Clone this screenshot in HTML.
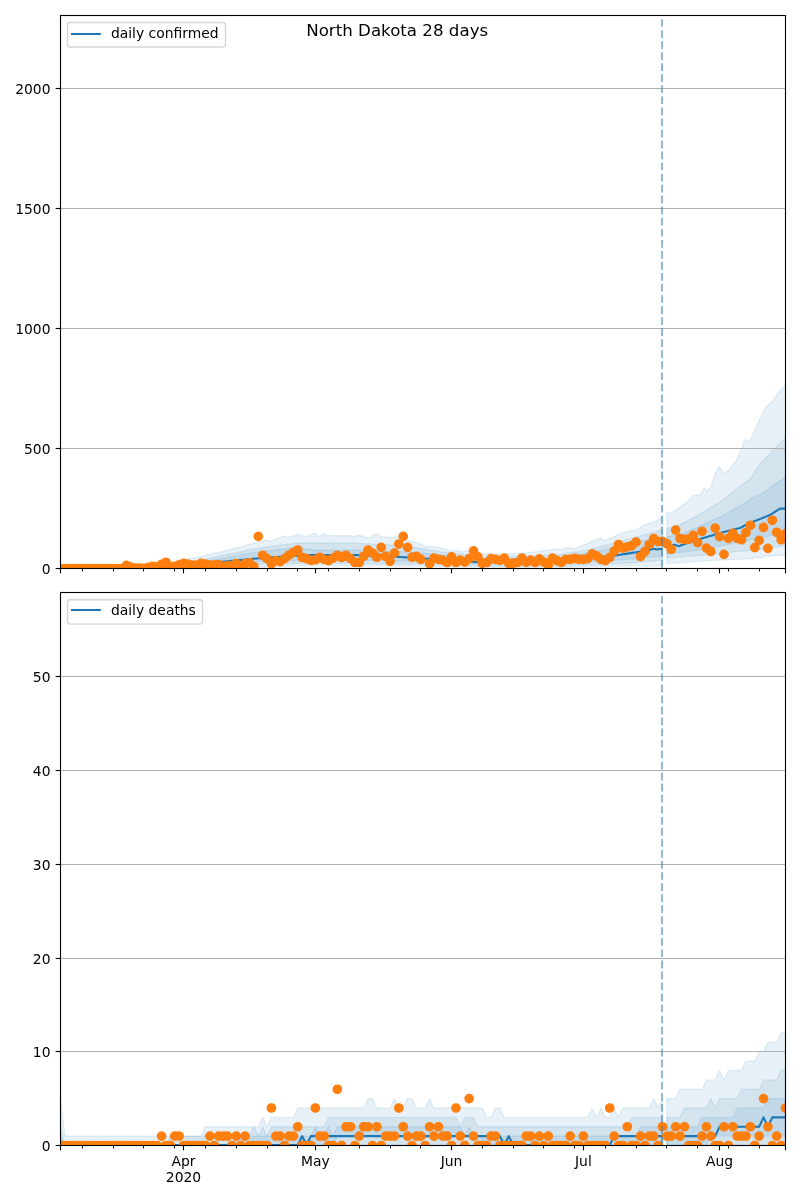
<!DOCTYPE html>
<html lang="en"><head><meta charset="utf-8"><title>North Dakota 28 days</title>
<style>html,body{margin:0;padding:0;background:#fff}svg{display:block}</style></head>
<body>
<svg width="800" height="1200" viewBox="0 0 800 1200" font-family="'DejaVu Sans', 'Liberation Sans', sans-serif">
<rect width="800" height="1200" fill="#fff"/>
<defs>
<clipPath id="c1"><rect x="60.5" y="15.5" width="725.0" height="553.0"/></clipPath>
<clipPath id="c2"><rect x="60.5" y="592.5" width="725.0" height="553.0"/></clipPath>
</defs>
<g clip-path="url(#c1)">
<polygon points="60.50,567.50 62.00,567.47 63.50,567.44 65.00,567.42 66.50,567.39 68.00,567.36 69.50,567.33 71.00,567.30 72.50,567.27 74.00,567.25 75.50,567.22 77.00,567.19 78.50,567.16 80.00,567.13 81.50,567.10 83.00,567.08 84.50,567.05 86.00,567.02 87.50,566.99 89.00,566.96 90.50,566.93 92.00,566.91 93.50,566.88 95.00,566.85 96.50,566.82 98.00,566.79 99.50,566.76 101.00,566.74 102.50,566.71 104.00,566.68 105.50,566.65 107.00,566.62 108.50,566.59 110.00,566.57 111.50,566.54 113.00,566.51 114.50,566.48 116.00,566.45 117.50,566.42 119.00,566.40 120.50,566.37 122.00,566.34 123.50,566.31 125.00,566.28 126.50,566.25 128.00,566.23 129.50,566.20 131.00,566.17 132.50,566.14 134.00,566.11 135.50,566.08 137.00,566.06 138.50,566.03 140.00,566.00 141.50,565.85 143.00,565.70 144.50,565.55 146.00,565.40 147.50,565.25 149.00,565.10 150.50,564.95 152.00,564.80 153.50,564.65 155.00,564.50 156.50,564.35 158.00,564.20 159.50,564.05 161.00,563.90 162.50,563.75 164.00,563.60 165.50,563.45 167.00,563.30 168.50,563.15 170.00,563.00 171.50,562.66 173.00,562.33 174.50,561.99 176.00,561.65 177.50,561.31 179.00,560.98 180.50,560.64 182.00,560.30 183.50,559.96 185.00,559.62 186.50,559.29 188.00,558.95 189.50,558.61 191.00,558.35 192.50,558.12 194.00,557.90 195.50,557.67 197.00,557.45 198.50,557.23 200.00,557.00 201.50,556.55 203.00,556.10 204.50,555.65 206.00,555.20 207.50,554.75 209.00,554.30 210.50,553.90 212.00,553.60 213.50,553.30 215.00,553.00 216.50,552.70 218.00,552.40 219.50,552.10 221.00,551.75 222.50,551.38 224.00,551.00 225.50,550.62 227.00,550.25 228.50,549.88 230.00,549.50 231.50,549.12 233.00,548.75 234.50,548.38 236.00,548.00 237.50,547.62 239.00,547.25 240.50,546.86 242.00,546.43 243.50,546.01 245.00,545.58 246.50,545.16 248.00,544.73 249.50,544.31 251.00,543.88 252.50,543.46 254.00,543.03 255.50,542.61 257.00,542.18 258.50,541.78 260.00,541.42 261.50,541.07 263.00,540.71 264.50,540.36 266.00,540.00 267.50,540.38 269.00,540.75 270.50,541.12 272.00,540.84 273.50,540.22 275.00,539.60 276.50,538.99 278.00,538.37 279.50,537.75 281.00,537.13 282.50,536.51 284.00,536.10 285.50,536.70 287.00,537.30 288.50,537.19 290.00,536.73 291.50,536.26 293.00,535.79 294.50,535.33 296.00,534.87 297.50,534.40 299.00,534.77 300.50,535.14 302.00,535.51 303.50,535.88 305.00,536.25 306.50,536.31 308.00,535.74 309.50,535.18 311.00,534.61 312.50,534.04 314.00,533.48 315.50,533.53 317.00,534.83 318.50,536.12 320.00,536.43 321.50,535.26 323.00,534.09 324.50,533.82 326.00,534.45 327.50,535.08 329.00,535.60 330.50,535.60 332.00,535.60 333.50,535.60 335.00,535.60 336.50,535.60 338.00,535.60 339.50,535.60 341.00,535.60 342.50,535.60 344.00,535.60 345.50,535.60 347.00,535.60 348.50,535.60 350.00,535.60 351.50,536.12 353.00,536.64 354.50,536.62 356.00,536.04 357.50,535.48 359.00,535.08 360.50,535.54 362.00,536.01 363.50,536.47 365.00,536.94 366.50,537.40 368.00,537.87 369.50,537.64 371.00,536.72 372.50,535.80 374.00,534.88 375.50,533.96 377.00,533.91 378.50,534.72 380.00,535.54 381.50,536.36 383.00,536.91 384.50,536.95 386.00,536.98 387.50,537.02 389.00,537.05 390.50,537.09 392.00,537.12 393.50,537.16 395.00,537.19 396.50,537.23 398.00,537.40 399.50,537.84 401.00,538.29 402.50,538.73 404.00,539.18 405.50,539.62 407.00,540.06 408.50,540.51 410.00,540.95 411.50,541.38 413.00,541.75 414.50,542.12 416.00,542.50 417.50,542.88 419.00,543.25 420.50,543.62 422.00,544.38 423.50,545.33 425.00,546.27 426.50,546.82 428.00,546.58 429.50,546.33 431.00,546.40 432.50,546.62 434.00,546.84 435.50,547.06 437.00,547.29 438.50,547.51 440.00,547.73 441.50,547.95 443.00,548.26 444.50,548.73 446.00,549.20 447.50,549.67 449.00,550.15 450.50,550.62 452.00,551.09 453.50,550.89 455.00,550.36 456.50,550.19 458.00,550.76 459.50,551.33 461.00,551.90 462.50,551.60 464.00,551.30 465.50,551.00 467.00,550.70 468.50,550.81 470.00,551.12 471.50,551.44 473.00,551.75 474.50,552.07 476.00,552.38 477.50,552.70 479.00,553.01 480.50,553.33 482.00,553.64 483.50,553.76 485.00,553.77 486.50,553.78 488.00,553.79 489.50,553.80 491.00,553.81 492.50,553.82 494.00,553.83 495.50,553.84 497.00,553.85 498.50,553.86 500.00,553.87 501.50,553.88 503.00,553.89 504.50,553.90 506.00,553.86 507.50,553.80 509.00,553.74 510.50,553.68 512.00,553.62 513.50,553.56 515.00,553.50 516.50,553.44 518.00,553.38 519.50,553.32 521.00,553.26 522.50,553.20 524.00,553.14 525.50,553.04 527.00,552.85 528.50,552.67 530.00,552.48 531.50,552.29 533.00,552.11 534.50,551.92 536.00,551.74 537.50,551.55 539.00,551.36 540.50,551.18 542.00,550.99 543.50,550.81 545.00,550.62 546.50,550.43 548.00,550.25 549.50,550.06 551.00,549.79 552.50,549.48 554.00,549.17 555.50,548.85 557.00,549.06 558.50,549.53 560.00,550.00 561.50,549.38 563.00,548.75 564.50,548.12 566.00,547.50 567.50,547.67 569.00,547.83 570.50,548.00 572.00,548.17 573.50,548.33 575.00,548.50 576.50,547.90 578.00,547.30 579.50,546.70 581.00,546.10 582.50,545.50 584.00,544.90 585.50,544.30 587.00,543.70 588.50,543.09 590.00,542.47 591.50,541.85 593.00,541.23 594.50,540.61 596.00,540.00 597.50,539.38 599.00,538.76 600.50,538.14 602.00,538.90 603.50,539.75 605.00,540.60 606.50,539.92 608.00,539.25 609.50,538.57 611.00,537.89 612.50,537.22 614.00,536.54 615.50,535.87 617.00,535.19 618.50,534.51 620.00,533.95 621.50,533.41 623.00,532.87 624.50,532.33 626.00,531.79 627.50,531.25 629.00,531.03 630.50,530.81 632.00,530.59 633.50,530.37 635.00,530.15 636.50,529.69 638.00,528.76 639.50,527.82 641.00,526.89 642.50,525.96 644.00,525.02 645.50,524.25 647.00,523.79 648.50,523.34 650.00,522.88 651.50,522.42 653.00,521.97 654.50,521.51 656.00,521.06 657.50,520.60 659.00,519.07 660.50,517.54 662.00,516.01 662.50,515.50 662.50,565.60 662.00,565.61 660.50,565.62 659.00,565.64 657.50,565.66 656.00,565.67 654.50,565.69 653.00,565.71 651.50,565.72 650.00,565.74 648.50,565.76 647.00,565.77 645.50,565.79 644.00,565.81 642.50,565.82 641.00,565.84 639.50,565.86 638.00,565.87 636.50,565.89 635.00,565.91 633.50,565.92 632.00,565.94 630.50,565.96 629.00,565.98 627.50,565.99 626.00,566.01 624.50,566.03 623.00,566.04 621.50,566.06 620.00,566.08 618.50,566.09 617.00,566.11 615.50,566.13 614.00,566.14 612.50,566.16 611.00,566.18 609.50,566.19 608.00,566.21 606.50,566.23 605.00,566.24 603.50,566.26 602.00,566.28 600.50,566.29 599.00,566.32 597.50,566.34 596.00,566.37 594.50,566.40 593.00,566.42 591.50,566.45 590.00,566.47 588.50,566.50 587.00,566.53 585.50,566.55 584.00,566.58 582.50,566.61 581.00,566.63 579.50,566.66 578.00,566.68 576.50,566.71 575.00,566.74 573.50,566.76 572.00,566.79 570.50,566.82 569.00,566.84 567.50,566.87 566.00,566.89 564.50,566.92 563.00,566.95 561.50,566.97 560.00,567.00 558.50,567.00 557.00,567.00 555.50,567.00 554.00,567.00 552.50,567.00 551.00,567.00 549.50,567.00 548.00,567.00 546.50,567.00 545.00,567.00 543.50,567.00 542.00,567.00 540.50,567.00 539.00,567.00 537.50,567.00 536.00,567.00 534.50,567.00 533.00,567.00 531.50,567.00 530.00,567.00 528.50,567.00 527.00,567.00 525.50,567.00 524.00,567.00 522.50,567.00 521.00,567.00 519.50,567.00 518.00,567.00 516.50,567.00 515.00,567.00 513.50,567.00 512.00,567.00 510.50,567.00 509.00,567.00 507.50,567.00 506.00,567.00 504.50,567.00 503.00,567.00 501.50,567.00 500.00,567.00 498.50,567.00 497.00,567.00 495.50,567.00 494.00,567.00 492.50,567.00 491.00,567.00 489.50,567.00 488.00,567.00 486.50,567.00 485.00,567.00 483.50,567.00 482.00,567.00 480.50,566.98 479.00,566.96 477.50,566.94 476.00,566.92 474.50,566.89 473.00,566.87 471.50,566.85 470.00,566.83 468.50,566.81 467.00,566.79 465.50,566.77 464.00,566.75 462.50,566.73 461.00,566.70 459.50,566.68 458.00,566.66 456.50,566.64 455.00,566.62 453.50,566.60 452.00,566.58 450.50,566.56 449.00,566.54 447.50,566.51 446.00,566.49 444.50,566.47 443.00,566.45 441.50,566.43 440.00,566.41 438.50,566.39 437.00,566.37 435.50,566.35 434.00,566.32 432.50,566.30 431.00,566.28 429.50,566.26 428.00,566.24 426.50,566.22 425.00,566.20 423.50,566.18 422.00,566.15 420.50,566.13 419.00,566.11 417.50,566.09 416.00,566.07 414.50,566.05 413.00,566.03 411.50,566.01 410.00,566.00 408.50,565.99 407.00,565.98 405.50,565.98 404.00,565.97 402.50,565.97 401.00,565.96 399.50,565.95 398.00,565.95 396.50,565.94 395.00,565.94 393.50,565.93 392.00,565.92 390.50,565.92 389.00,565.91 387.50,565.91 386.00,565.90 384.50,565.90 383.00,565.89 381.50,565.88 380.00,565.88 378.50,565.87 377.00,565.87 375.50,565.86 374.00,565.85 372.50,565.85 371.00,565.84 369.50,565.84 368.00,565.83 366.50,565.82 365.00,565.82 363.50,565.81 362.00,565.81 360.50,565.80 359.00,565.79 357.50,565.79 356.00,565.78 354.50,565.78 353.00,565.77 351.50,565.76 350.00,565.76 348.50,565.75 347.00,565.75 345.50,565.74 344.00,565.73 342.50,565.73 341.00,565.72 339.50,565.72 338.00,565.71 336.50,565.70 335.00,565.70 333.50,565.69 332.00,565.69 330.50,565.68 329.00,565.68 327.50,565.67 326.00,565.66 324.50,565.66 323.00,565.65 321.50,565.65 320.00,565.64 318.50,565.63 317.00,565.63 315.50,565.62 314.00,565.62 312.50,565.61 311.00,565.60 309.50,565.61 308.00,565.65 306.50,565.69 305.00,565.73 303.50,565.76 302.00,565.80 300.50,565.84 299.00,565.88 297.50,565.91 296.00,565.95 294.50,565.99 293.00,566.02 291.50,566.06 290.00,566.10 288.50,566.14 287.00,566.17 285.50,566.21 284.00,566.25 282.50,566.29 281.00,566.33 279.50,566.36 278.00,566.40 276.50,566.44 275.00,566.48 273.50,566.51 272.00,566.55 270.50,566.59 269.00,566.62 267.50,566.66 266.00,566.70 264.50,566.74 263.00,566.77 261.50,566.81 260.00,566.85 258.50,566.89 257.00,566.91 255.50,566.93 254.00,566.96 252.50,566.98 251.00,567.00 249.50,567.02 248.00,567.04 246.50,567.06 245.00,567.08 243.50,567.10 242.00,567.12 240.50,567.14 239.00,567.17 237.50,567.19 236.00,567.21 234.50,567.23 233.00,567.25 231.50,567.27 230.00,567.29 228.50,567.31 227.00,567.33 225.50,567.35 224.00,567.37 222.50,567.40 221.00,567.42 219.50,567.44 218.00,567.46 216.50,567.48 215.00,567.50 213.50,567.51 212.00,567.52 210.50,567.53 209.00,567.54 207.50,567.55 206.00,567.56 204.50,567.57 203.00,567.58 201.50,567.59 200.00,567.60 198.50,567.61 197.00,567.62 195.50,567.63 194.00,567.64 192.50,567.65 191.00,567.66 189.50,567.67 188.00,567.67 186.50,567.68 185.00,567.69 183.50,567.70 182.00,567.71 180.50,567.72 179.00,567.73 177.50,567.74 176.00,567.75 174.50,567.76 173.00,567.77 171.50,567.78 170.00,567.79 168.50,567.80 167.00,567.81 165.50,567.82 164.00,567.83 162.50,567.84 161.00,567.85 159.50,567.86 158.00,567.87 156.50,567.88 155.00,567.89 153.50,567.90 152.00,567.91 150.50,567.92 149.00,567.93 147.50,567.94 146.00,567.95 144.50,567.96 143.00,567.97 141.50,567.98 140.00,567.99 138.50,568.00 137.00,568.00 135.50,568.01 134.00,568.02 132.50,568.03 131.00,568.04 129.50,568.05 128.00,568.06 126.50,568.07 125.00,568.08 123.50,568.09 122.00,568.10 120.50,568.11 119.00,568.12 117.50,568.13 116.00,568.14 114.50,568.15 113.00,568.16 111.50,568.17 110.00,568.18 108.50,568.19 107.00,568.20 105.50,568.21 104.00,568.22 102.50,568.23 101.00,568.24 99.50,568.25 98.00,568.26 96.50,568.27 95.00,568.28 93.50,568.29 92.00,568.30 90.50,568.31 89.00,568.32 87.50,568.33 86.00,568.33 84.50,568.34 83.00,568.35 81.50,568.36 80.00,568.37 78.50,568.38 77.00,568.39 75.50,568.40 74.00,568.41 72.50,568.42 71.00,568.43 69.50,568.44 68.00,568.45 66.50,568.46 65.00,568.47 63.50,568.48 62.00,568.49 60.50,568.50" fill="#1f77b4" fill-opacity="0.1" stroke="#1f77b4" stroke-opacity="0.1" stroke-width="1.39" stroke-linejoin="round"/>
<polygon points="60.50,567.80 62.00,567.78 63.50,567.77 65.00,567.75 66.50,567.74 68.00,567.72 69.50,567.71 71.00,567.69 72.50,567.68 74.00,567.66 75.50,567.65 77.00,567.63 78.50,567.62 80.00,567.60 81.50,567.59 83.00,567.57 84.50,567.56 86.00,567.54 87.50,567.53 89.00,567.51 90.50,567.50 92.00,567.48 93.50,567.47 95.00,567.45 96.50,567.44 98.00,567.42 99.50,567.41 101.00,567.39 102.50,567.38 104.00,567.36 105.50,567.35 107.00,567.33 108.50,567.32 110.00,567.30 111.50,567.29 113.00,567.27 114.50,567.26 116.00,567.24 117.50,567.23 119.00,567.21 120.50,567.20 122.00,567.18 123.50,567.17 125.00,567.15 126.50,567.14 128.00,567.12 129.50,567.11 131.00,567.09 132.50,567.08 134.00,567.06 135.50,567.05 137.00,567.03 138.50,567.02 140.00,567.00 141.50,566.90 143.00,566.80 144.50,566.70 146.00,566.60 147.50,566.50 149.00,566.40 150.50,566.30 152.00,566.20 153.50,566.10 155.00,566.00 156.50,565.90 158.00,565.80 159.50,565.70 161.00,565.60 162.50,565.50 164.00,565.40 165.50,565.30 167.00,565.20 168.50,565.10 170.00,565.00 171.50,564.77 173.00,564.55 174.50,564.33 176.00,564.10 177.50,563.88 179.00,563.65 180.50,563.42 182.00,563.20 183.50,562.98 185.00,562.75 186.50,562.52 188.00,562.30 189.50,562.08 191.00,561.85 192.50,561.62 194.00,561.40 195.50,561.17 197.00,560.95 198.50,560.73 200.00,560.50 201.50,560.15 203.00,559.80 204.50,559.45 206.00,559.10 207.50,558.75 209.00,558.40 210.50,558.05 212.00,557.70 213.50,557.35 215.00,557.00 216.50,556.69 218.00,556.38 219.50,556.07 221.00,555.76 222.50,555.45 224.00,555.14 225.50,554.83 227.00,554.52 228.50,554.21 230.00,553.90 231.50,553.58 233.00,553.27 234.50,552.96 236.00,552.65 237.50,552.34 239.00,552.03 240.50,551.72 242.00,551.41 243.50,551.10 245.00,550.79 246.50,550.48 248.00,550.17 249.50,549.86 251.00,549.55 252.50,549.24 254.00,548.93 255.50,548.62 257.00,548.31 258.50,548.03 260.00,547.84 261.50,547.64 263.00,547.44 264.50,547.24 266.00,547.05 267.50,546.85 269.00,546.65 270.50,546.46 272.00,546.26 273.50,546.06 275.00,545.86 276.50,545.67 278.00,545.47 279.50,545.27 281.00,545.07 282.50,544.88 284.00,544.68 285.50,544.48 287.00,544.28 288.50,544.09 290.00,543.89 291.50,543.69 293.00,543.49 294.50,543.30 296.00,543.10 297.50,543.10 299.00,543.10 300.50,543.10 302.00,543.10 303.50,543.10 305.00,543.10 306.50,543.10 308.00,543.10 309.50,543.10 311.00,543.10 312.50,543.10 314.00,543.10 315.50,543.10 317.00,543.10 318.50,543.10 320.00,543.10 321.50,543.10 323.00,543.10 324.50,543.10 326.00,543.10 327.50,543.10 329.00,543.10 330.50,543.10 332.00,543.10 333.50,543.10 335.00,543.10 336.50,543.10 338.00,543.10 339.50,543.10 341.00,543.10 342.50,543.10 344.00,543.10 345.50,543.10 347.00,543.10 348.50,543.10 350.00,543.10 351.50,543.16 353.00,543.21 354.50,543.27 356.00,543.32 357.50,543.38 359.00,543.43 360.50,543.49 362.00,543.55 363.50,543.60 365.00,543.66 366.50,543.71 368.00,543.77 369.50,543.82 371.00,543.88 372.50,543.94 374.00,543.99 375.50,544.05 377.00,544.10 378.50,544.16 380.00,544.21 381.50,544.27 383.00,544.33 384.50,544.38 386.00,544.50 387.50,544.65 389.00,544.80 390.50,544.95 392.00,545.10 393.50,545.25 395.00,545.40 396.50,545.55 398.00,545.70 399.50,545.85 401.00,546.00 402.50,546.15 404.00,546.30 405.50,546.45 407.00,546.60 408.50,546.75 410.00,546.90 411.50,547.08 413.00,547.32 414.50,547.56 416.00,547.81 417.50,548.05 419.00,548.29 420.50,548.53 422.00,548.77 423.50,549.02 425.00,549.26 426.50,549.50 428.00,549.74 429.50,549.98 431.00,550.23 432.50,550.47 434.00,550.71 435.50,550.95 437.00,551.19 438.50,551.44 440.00,551.68 441.50,551.92 443.00,552.11 444.50,552.28 446.00,552.45 447.50,552.62 449.00,552.79 450.50,552.96 452.00,553.12 453.50,553.29 455.00,553.46 456.50,553.63 458.00,553.80 459.50,553.97 461.00,554.14 462.50,554.31 464.00,554.48 465.50,554.64 467.00,554.81 468.50,554.98 470.00,555.15 471.50,555.32 473.00,555.49 474.50,555.66 476.00,555.83 477.50,555.99 479.00,556.16 480.50,556.33 482.00,556.50 483.50,556.50 485.00,556.50 486.50,556.50 488.00,556.50 489.50,556.50 491.00,556.50 492.50,556.50 494.00,556.50 495.50,556.50 497.00,556.50 498.50,556.50 500.00,556.50 501.50,556.50 503.00,556.50 504.50,556.50 506.00,556.50 507.50,556.50 509.00,556.50 510.50,556.50 512.00,556.50 513.50,556.50 515.00,556.50 516.50,556.50 518.00,556.50 519.50,556.50 521.00,556.50 522.50,556.50 524.00,556.50 525.50,556.47 527.00,556.39 528.50,556.30 530.00,556.21 531.50,556.13 533.00,556.04 534.50,555.96 536.00,555.87 537.50,555.79 539.00,555.70 540.50,555.61 542.00,555.53 543.50,555.44 545.00,555.36 546.50,555.27 548.00,555.19 549.50,555.10 551.00,555.01 552.50,554.93 554.00,554.84 555.50,554.76 557.00,554.67 558.50,554.59 560.00,554.50 561.50,554.25 563.00,553.99 564.50,553.74 566.00,553.48 567.50,553.23 569.00,552.97 570.50,552.72 572.00,552.46 573.50,552.21 575.00,551.95 576.50,551.69 578.00,551.44 579.50,551.18 581.00,550.93 582.50,550.67 584.00,550.42 585.50,550.16 587.00,549.91 588.50,549.65 590.00,549.40 591.50,549.01 593.00,548.62 594.50,548.23 596.00,547.83 597.50,547.44 599.00,547.05 600.50,546.66 602.00,546.27 603.50,545.88 605.00,545.49 606.50,545.10 608.00,544.70 609.50,544.31 611.00,543.92 612.50,543.53 614.00,543.14 615.50,542.75 617.00,542.36 618.50,541.97 620.00,541.56 621.50,541.14 623.00,540.73 624.50,540.32 626.00,539.91 627.50,539.50 629.00,539.08 630.50,538.67 632.00,538.26 633.50,537.85 635.00,537.43 636.50,537.02 638.00,536.61 639.50,536.20 641.00,535.78 642.50,535.37 644.00,534.96 645.50,534.55 647.00,534.14 648.50,533.72 650.00,533.31 651.50,532.90 653.00,532.49 654.50,532.07 656.00,531.66 657.50,531.25 659.00,530.88 660.50,530.50 662.00,530.12 662.50,530.00 662.50,560.00 662.00,560.05 660.50,560.19 659.00,560.33 657.50,560.47 656.00,560.61 654.50,560.75 653.00,560.90 651.50,561.04 650.00,561.18 648.50,561.32 647.00,561.46 645.50,561.60 644.00,561.75 642.50,561.89 641.00,562.03 639.50,562.17 638.00,562.31 636.50,562.45 635.00,562.56 633.50,562.64 632.00,562.72 630.50,562.81 629.00,562.89 627.50,562.97 626.00,563.06 624.50,563.14 623.00,563.22 621.50,563.31 620.00,563.39 618.50,563.47 617.00,563.56 615.50,563.64 614.00,563.72 612.50,563.81 611.00,563.89 609.50,563.97 608.00,564.06 606.50,564.14 605.00,564.22 603.50,564.31 602.00,564.39 600.50,564.47 599.00,564.52 597.50,564.56 596.00,564.60 594.50,564.64 593.00,564.67 591.50,564.71 590.00,564.75 588.50,564.79 587.00,564.83 585.50,564.86 584.00,564.90 582.50,564.94 581.00,564.98 579.50,565.01 578.00,565.05 576.50,565.09 575.00,565.12 573.50,565.16 572.00,565.20 570.50,565.24 569.00,565.27 567.50,565.31 566.00,565.35 564.50,565.39 563.00,565.42 561.50,565.46 560.00,565.50 558.50,565.50 557.00,565.50 555.50,565.50 554.00,565.50 552.50,565.50 551.00,565.50 549.50,565.50 548.00,565.50 546.50,565.50 545.00,565.50 543.50,565.50 542.00,565.50 540.50,565.50 539.00,565.50 537.50,565.50 536.00,565.50 534.50,565.50 533.00,565.50 531.50,565.50 530.00,565.50 528.50,565.50 527.00,565.50 525.50,565.50 524.00,565.50 522.50,565.50 521.00,565.50 519.50,565.50 518.00,565.50 516.50,565.50 515.00,565.50 513.50,565.50 512.00,565.50 510.50,565.50 509.00,565.50 507.50,565.50 506.00,565.50 504.50,565.50 503.00,565.50 501.50,565.50 500.00,565.50 498.50,565.50 497.00,565.50 495.50,565.50 494.00,565.50 492.50,565.50 491.00,565.50 489.50,565.50 488.00,565.50 486.50,565.50 485.00,565.50 483.50,565.50 482.00,565.50 480.50,565.47 479.00,565.44 477.50,565.40 476.00,565.37 474.50,565.34 473.00,565.31 471.50,565.28 470.00,565.25 468.50,565.21 467.00,565.18 465.50,565.15 464.00,565.12 462.50,565.09 461.00,565.06 459.50,565.02 458.00,564.99 456.50,564.96 455.00,564.93 453.50,564.90 452.00,564.87 450.50,564.83 449.00,564.80 447.50,564.77 446.00,564.74 444.50,564.71 443.00,564.68 441.50,564.64 440.00,564.61 438.50,564.58 437.00,564.55 435.50,564.52 434.00,564.49 432.50,564.45 431.00,564.42 429.50,564.39 428.00,564.36 426.50,564.33 425.00,564.30 423.50,564.26 422.00,564.23 420.50,564.20 419.00,564.17 417.50,564.14 416.00,564.11 414.50,564.07 413.00,564.04 411.50,564.01 410.00,563.99 408.50,563.98 407.00,563.96 405.50,563.95 404.00,563.94 402.50,563.92 401.00,563.91 399.50,563.90 398.00,563.88 396.50,563.87 395.00,563.86 393.50,563.84 392.00,563.83 390.50,563.82 389.00,563.80 387.50,563.79 386.00,563.78 384.50,563.76 383.00,563.75 381.50,563.74 380.00,563.72 378.50,563.71 377.00,563.70 375.50,563.68 374.00,563.67 372.50,563.66 371.00,563.64 369.50,563.63 368.00,563.62 366.50,563.60 365.00,563.59 363.50,563.58 362.00,563.56 360.50,563.55 359.00,563.54 357.50,563.52 356.00,563.51 354.50,563.50 353.00,563.48 351.50,563.47 350.00,563.46 348.50,563.44 347.00,563.43 345.50,563.42 344.00,563.40 342.50,563.39 341.00,563.38 339.50,563.36 338.00,563.35 336.50,563.34 335.00,563.32 333.50,563.31 332.00,563.30 330.50,563.28 329.00,563.27 327.50,563.26 326.00,563.24 324.50,563.23 323.00,563.22 321.50,563.20 320.00,563.19 318.50,563.18 317.00,563.16 315.50,563.15 314.00,563.14 312.50,563.12 311.00,563.11 309.50,563.11 308.00,563.15 306.50,563.19 305.00,563.23 303.50,563.26 302.00,563.30 300.50,563.34 299.00,563.38 297.50,563.41 296.00,563.45 294.50,563.49 293.00,563.52 291.50,563.56 290.00,563.60 288.50,563.64 287.00,563.67 285.50,563.71 284.00,563.75 282.50,563.79 281.00,563.83 279.50,563.86 278.00,563.90 276.50,563.94 275.00,563.98 273.50,564.01 272.00,564.05 270.50,564.09 269.00,564.12 267.50,564.16 266.00,564.20 264.50,564.24 263.00,564.27 261.50,564.31 260.00,564.35 258.50,564.39 257.00,564.44 255.50,564.49 254.00,564.55 252.50,564.60 251.00,564.66 249.50,564.72 248.00,564.77 246.50,564.83 245.00,564.88 243.50,564.94 242.00,565.00 240.50,565.05 239.00,565.11 237.50,565.16 236.00,565.22 234.50,565.27 233.00,565.33 231.50,565.39 230.00,565.44 228.50,565.50 227.00,565.55 225.50,565.61 224.00,565.67 222.50,565.72 221.00,565.78 219.50,565.83 218.00,565.89 216.50,565.94 215.00,566.00 213.50,566.07 212.00,566.13 210.50,566.20 209.00,566.27 207.50,566.33 206.00,566.40 204.50,566.47 203.00,566.53 201.50,566.60 200.00,566.67 198.50,566.73 197.00,566.80 195.50,566.87 194.00,566.93 192.50,567.00 191.00,567.07 189.50,567.13 188.00,567.20 186.50,567.27 185.00,567.33 183.50,567.40 182.00,567.47 180.50,567.53 179.00,567.60 177.50,567.67 176.00,567.73 174.50,567.80 173.00,567.87 171.50,567.93 170.00,568.00 168.50,568.01 167.00,568.01 165.50,568.02 164.00,568.03 162.50,568.03 161.00,568.04 159.50,568.05 158.00,568.05 156.50,568.06 155.00,568.07 153.50,568.08 152.00,568.08 150.50,568.09 149.00,568.10 147.50,568.10 146.00,568.11 144.50,568.12 143.00,568.12 141.50,568.13 140.00,568.14 138.50,568.14 137.00,568.15 135.50,568.16 134.00,568.16 132.50,568.17 131.00,568.18 129.50,568.18 128.00,568.19 126.50,568.20 125.00,568.21 123.50,568.21 122.00,568.22 120.50,568.23 119.00,568.23 117.50,568.24 116.00,568.25 114.50,568.25 113.00,568.26 111.50,568.27 110.00,568.27 108.50,568.28 107.00,568.29 105.50,568.29 104.00,568.30 102.50,568.31 101.00,568.32 99.50,568.32 98.00,568.33 96.50,568.34 95.00,568.34 93.50,568.35 92.00,568.36 90.50,568.36 89.00,568.37 87.50,568.38 86.00,568.38 84.50,568.39 83.00,568.40 81.50,568.40 80.00,568.41 78.50,568.42 77.00,568.42 75.50,568.43 74.00,568.44 72.50,568.45 71.00,568.45 69.50,568.46 68.00,568.47 66.50,568.47 65.00,568.48 63.50,568.49 62.00,568.49 60.50,568.50" fill="#1f77b4" fill-opacity="0.1" stroke="#1f77b4" stroke-opacity="0.1" stroke-width="1.39" stroke-linejoin="round"/>
<polygon points="60.50,568.00 62.00,567.99 63.50,567.98 65.00,567.97 66.50,567.96 68.00,567.95 69.50,567.94 71.00,567.93 72.50,567.92 74.00,567.92 75.50,567.91 77.00,567.90 78.50,567.89 80.00,567.88 81.50,567.87 83.00,567.86 84.50,567.85 86.00,567.84 87.50,567.83 89.00,567.82 90.50,567.81 92.00,567.80 93.50,567.79 95.00,567.78 96.50,567.77 98.00,567.76 99.50,567.75 101.00,567.75 102.50,567.74 104.00,567.73 105.50,567.72 107.00,567.71 108.50,567.70 110.00,567.69 111.50,567.68 113.00,567.67 114.50,567.66 116.00,567.65 117.50,567.64 119.00,567.63 120.50,567.62 122.00,567.61 123.50,567.60 125.00,567.59 126.50,567.58 128.00,567.58 129.50,567.57 131.00,567.56 132.50,567.55 134.00,567.54 135.50,567.53 137.00,567.52 138.50,567.51 140.00,567.50 141.50,567.42 143.00,567.35 144.50,567.27 146.00,567.20 147.50,567.12 149.00,567.05 150.50,566.98 152.00,566.90 153.50,566.83 155.00,566.75 156.50,566.67 158.00,566.60 159.50,566.52 161.00,566.45 162.50,566.38 164.00,566.30 165.50,566.23 167.00,566.15 168.50,566.08 170.00,566.00 171.50,565.83 173.00,565.65 174.50,565.48 176.00,565.30 177.50,565.12 179.00,564.95 180.50,564.77 182.00,564.60 183.50,564.42 185.00,564.25 186.50,564.08 188.00,563.90 189.50,563.73 191.00,563.55 192.50,563.38 194.00,563.20 195.50,563.02 197.00,562.85 198.50,562.67 200.00,562.50 201.50,562.20 203.00,561.90 204.50,561.60 206.00,561.30 207.50,561.00 209.00,560.70 210.50,560.40 212.00,560.10 213.50,559.80 215.00,559.50 216.50,559.23 218.00,558.97 219.50,558.70 221.00,558.44 222.50,558.17 224.00,557.91 225.50,557.64 227.00,557.38 228.50,557.11 230.00,556.85 231.50,556.58 233.00,556.32 234.50,556.05 236.00,555.79 237.50,555.52 239.00,555.26 240.50,554.99 242.00,554.73 243.50,554.46 245.00,554.20 246.50,553.93 248.00,553.67 249.50,553.40 251.00,553.14 252.50,552.87 254.00,552.61 255.50,552.34 257.00,552.08 258.50,551.84 260.00,551.67 261.50,551.49 263.00,551.32 264.50,551.15 266.00,550.97 267.50,550.80 269.00,550.63 270.50,550.45 272.00,550.28 273.50,550.11 275.00,549.93 276.50,549.76 278.00,549.58 279.50,549.41 281.00,549.24 282.50,549.06 284.00,548.89 285.50,548.72 287.00,548.54 288.50,548.37 290.00,548.19 291.50,548.02 293.00,547.85 294.50,547.67 296.00,547.50 297.50,547.70 299.00,547.89 300.50,548.09 302.00,548.29 303.50,548.49 305.00,548.68 306.50,548.88 308.00,549.08 309.50,549.28 311.00,549.47 312.50,549.67 314.00,549.87 315.50,550.00 317.00,550.00 318.50,550.00 320.00,550.00 321.50,550.00 323.00,550.00 324.50,550.00 326.00,550.00 327.50,550.00 329.00,550.00 330.50,550.00 332.00,550.00 333.50,550.00 335.00,550.00 336.50,550.00 338.00,550.00 339.50,550.00 341.00,550.00 342.50,550.00 344.00,550.00 345.50,550.00 347.00,550.00 348.50,550.00 350.00,550.00 351.50,550.05 353.00,550.11 354.50,550.16 356.00,550.21 357.50,550.27 359.00,550.32 360.50,550.38 362.00,550.43 363.50,550.48 365.00,550.54 366.50,550.59 368.00,550.64 369.50,550.70 371.00,550.75 372.50,550.80 374.00,550.86 375.50,550.91 377.00,550.96 378.50,551.02 380.00,551.07 381.50,551.12 383.00,551.18 384.50,551.23 386.00,551.28 387.50,551.32 389.00,551.37 390.50,551.41 392.00,551.45 393.50,551.50 395.00,551.54 396.50,551.58 398.00,551.62 399.50,551.67 401.00,551.71 402.50,551.75 404.00,551.80 405.50,551.84 407.00,551.88 408.50,551.93 410.00,551.97 411.50,552.05 413.00,552.19 414.50,552.34 416.00,552.48 417.50,552.63 419.00,552.77 420.50,552.92 422.00,553.06 423.50,553.21 425.00,553.35 426.50,553.50 428.00,553.65 429.50,553.79 431.00,553.94 432.50,554.08 434.00,554.23 435.50,554.37 437.00,554.52 438.50,554.66 440.00,554.81 441.50,554.95 443.00,555.10 444.50,555.25 446.00,555.40 447.50,555.55 449.00,555.70 450.50,555.85 452.00,556.00 453.50,556.15 455.00,556.30 456.50,556.45 458.00,556.60 459.50,556.75 461.00,556.90 462.50,557.05 464.00,557.20 465.50,557.35 467.00,557.50 468.50,557.65 470.00,557.80 471.50,557.95 473.00,558.10 474.50,558.25 476.00,558.40 477.50,558.55 479.00,558.70 480.50,558.85 482.00,559.00 483.50,559.02 485.00,559.03 486.50,559.05 488.00,559.07 489.50,559.09 491.00,559.10 492.50,559.12 494.00,559.14 495.50,559.16 497.00,559.17 498.50,559.19 500.00,559.21 501.50,559.23 503.00,559.24 504.50,559.26 506.00,559.28 507.50,559.30 509.00,559.31 510.50,559.33 512.00,559.35 513.50,559.37 515.00,559.38 516.50,559.40 518.00,559.42 519.50,559.44 521.00,559.45 522.50,559.47 524.00,559.49 525.50,559.48 527.00,559.41 528.50,559.35 530.00,559.29 531.50,559.22 533.00,559.16 534.50,559.09 536.00,559.03 537.50,558.96 539.00,558.90 540.50,558.84 542.00,558.77 543.50,558.71 545.00,558.64 546.50,558.58 548.00,558.51 549.50,558.45 551.00,558.39 552.50,558.32 554.00,558.26 555.50,558.19 557.00,558.13 558.50,558.06 560.00,558.00 561.50,557.73 563.00,557.45 564.50,557.17 566.00,556.90 567.50,556.62 569.00,556.35 570.50,556.08 572.00,555.80 573.50,555.52 575.00,555.25 576.50,554.98 578.00,554.70 579.50,554.42 581.00,554.15 582.50,553.88 584.00,553.60 585.50,553.33 587.00,553.05 588.50,552.77 590.00,552.50 591.50,552.21 593.00,551.93 594.50,551.64 596.00,551.35 597.50,551.07 599.00,550.78 600.50,550.49 602.00,550.20 603.50,549.92 605.00,549.63 606.50,549.34 608.00,549.06 609.50,548.77 611.00,548.48 612.50,548.20 614.00,547.91 615.50,547.62 617.00,547.33 618.50,547.05 620.00,546.69 621.50,546.33 623.00,545.96 624.50,545.59 626.00,545.22 627.50,544.85 629.00,544.49 630.50,544.12 632.00,543.75 633.50,543.38 635.00,543.02 636.50,542.65 638.00,542.28 639.50,541.91 641.00,541.55 642.50,541.18 644.00,540.81 645.50,540.44 647.00,540.07 648.50,539.71 650.00,539.34 651.50,538.97 653.00,538.60 654.50,538.24 656.00,537.87 657.50,537.50 659.00,537.32 660.50,537.14 662.00,536.96 662.50,536.90 662.50,556.00 662.00,556.05 660.50,556.19 659.00,556.33 657.50,556.47 656.00,556.61 654.50,556.75 653.00,556.90 651.50,557.04 650.00,557.18 648.50,557.32 647.00,557.46 645.50,557.60 644.00,557.75 642.50,557.89 641.00,558.03 639.50,558.17 638.00,558.31 636.50,558.45 635.00,558.58 633.50,558.71 632.00,558.83 630.50,558.96 629.00,559.08 627.50,559.21 626.00,559.33 624.50,559.46 623.00,559.58 621.50,559.71 620.00,559.83 618.50,559.96 617.00,560.08 615.50,560.21 614.00,560.33 612.50,560.46 611.00,560.58 609.50,560.71 608.00,560.83 606.50,560.96 605.00,561.08 603.50,561.21 602.00,561.33 600.50,561.46 599.00,561.55 597.50,561.62 596.00,561.70 594.50,561.77 593.00,561.85 591.50,561.92 590.00,562.00 588.50,562.08 587.00,562.15 585.50,562.23 584.00,562.30 582.50,562.38 581.00,562.45 579.50,562.52 578.00,562.60 576.50,562.67 575.00,562.75 573.50,562.83 572.00,562.90 570.50,562.98 569.00,563.05 567.50,563.12 566.00,563.20 564.50,563.27 563.00,563.35 561.50,563.42 560.00,563.50 558.50,563.51 557.00,563.52 555.50,563.53 554.00,563.54 552.50,563.55 551.00,563.56 549.50,563.57 548.00,563.58 546.50,563.59 545.00,563.60 543.50,563.61 542.00,563.62 540.50,563.62 539.00,563.63 537.50,563.64 536.00,563.65 534.50,563.66 533.00,563.67 531.50,563.68 530.00,563.69 528.50,563.70 527.00,563.71 525.50,563.72 524.00,563.73 522.50,563.74 521.00,563.75 519.50,563.76 518.00,563.77 516.50,563.78 515.00,563.79 513.50,563.80 512.00,563.81 510.50,563.82 509.00,563.83 507.50,563.84 506.00,563.85 504.50,563.86 503.00,563.87 501.50,563.88 500.00,563.88 498.50,563.89 497.00,563.90 495.50,563.91 494.00,563.92 492.50,563.93 491.00,563.94 489.50,563.95 488.00,563.96 486.50,563.97 485.00,563.98 483.50,563.99 482.00,564.00 480.50,563.94 479.00,563.87 477.50,563.81 476.00,563.75 474.50,563.68 473.00,563.62 471.50,563.56 470.00,563.49 468.50,563.43 467.00,563.37 465.50,563.30 464.00,563.24 462.50,563.18 461.00,563.11 459.50,563.05 458.00,562.99 456.50,562.92 455.00,562.86 453.50,562.80 452.00,562.73 450.50,562.67 449.00,562.61 447.50,562.54 446.00,562.48 444.50,562.42 443.00,562.35 441.50,562.29 440.00,562.23 438.50,562.16 437.00,562.10 435.50,562.04 434.00,561.97 432.50,561.91 431.00,561.85 429.50,561.78 428.00,561.72 426.50,561.65 425.00,561.59 423.50,561.53 422.00,561.46 420.50,561.40 419.00,561.34 417.50,561.27 416.00,561.21 414.50,561.15 413.00,561.08 411.50,561.02 410.00,560.98 408.50,560.95 407.00,560.92 405.50,560.89 404.00,560.87 402.50,560.84 401.00,560.81 399.50,560.78 398.00,560.75 396.50,560.72 395.00,560.69 393.50,560.66 392.00,560.63 390.50,560.61 389.00,560.58 387.50,560.55 386.00,560.52 384.50,560.50 383.00,560.49 381.50,560.48 380.00,560.47 378.50,560.46 377.00,560.45 375.50,560.44 374.00,560.43 372.50,560.42 371.00,560.41 369.50,560.40 368.00,560.39 366.50,560.38 365.00,560.37 363.50,560.36 362.00,560.35 360.50,560.34 359.00,560.33 357.50,560.32 356.00,560.31 354.50,560.30 353.00,560.29 351.50,560.28 350.00,560.27 348.50,560.26 347.00,560.25 345.50,560.24 344.00,560.23 342.50,560.22 341.00,560.21 339.50,560.20 338.00,560.19 336.50,560.18 335.00,560.17 333.50,560.16 332.00,560.15 330.50,560.14 329.00,560.13 327.50,560.12 326.00,560.11 324.50,560.10 323.00,560.09 321.50,560.08 320.00,560.07 318.50,560.06 317.00,560.05 315.50,560.04 314.00,560.03 312.50,560.02 311.00,560.01 309.50,560.02 308.00,560.08 306.50,560.13 305.00,560.19 303.50,560.25 302.00,560.31 300.50,560.37 299.00,560.42 297.50,560.48 296.00,560.54 294.50,560.60 293.00,560.65 291.50,560.71 290.00,560.77 288.50,560.83 287.00,560.88 285.50,560.94 284.00,561.00 282.50,561.06 281.00,561.12 279.50,561.17 278.00,561.23 276.50,561.29 275.00,561.35 273.50,561.40 272.00,561.46 270.50,561.52 269.00,561.58 267.50,561.63 266.00,561.69 264.50,561.75 263.00,561.81 261.50,561.87 260.00,561.92 258.50,561.98 257.00,562.06 255.50,562.15 254.00,562.23 252.50,562.32 251.00,562.41 249.50,562.49 248.00,562.58 246.50,562.67 245.00,562.76 243.50,562.84 242.00,562.93 240.50,563.02 239.00,563.10 237.50,563.19 236.00,563.28 234.50,563.37 233.00,563.45 231.50,563.54 230.00,563.63 228.50,563.72 227.00,563.80 225.50,563.89 224.00,563.98 222.50,564.06 221.00,564.15 219.50,564.24 218.00,564.33 216.50,564.41 215.00,564.50 213.50,564.60 212.00,564.70 210.50,564.80 209.00,564.90 207.50,565.00 206.00,565.10 204.50,565.20 203.00,565.30 201.50,565.40 200.00,565.50 198.50,565.60 197.00,565.70 195.50,565.80 194.00,565.90 192.50,566.00 191.00,566.10 189.50,566.20 188.00,566.30 186.50,566.40 185.00,566.50 183.50,566.60 182.00,566.70 180.50,566.80 179.00,566.90 177.50,567.00 176.00,567.10 174.50,567.20 173.00,567.30 171.50,567.40 170.00,567.50 168.50,567.51 167.00,567.52 165.50,567.54 164.00,567.55 162.50,567.56 161.00,567.57 159.50,567.59 158.00,567.60 156.50,567.61 155.00,567.62 153.50,567.64 152.00,567.65 150.50,567.66 149.00,567.67 147.50,567.68 146.00,567.70 144.50,567.71 143.00,567.72 141.50,567.73 140.00,567.75 138.50,567.76 137.00,567.77 135.50,567.78 134.00,567.80 132.50,567.81 131.00,567.82 129.50,567.83 128.00,567.85 126.50,567.86 125.00,567.87 123.50,567.88 122.00,567.89 120.50,567.91 119.00,567.92 117.50,567.93 116.00,567.94 114.50,567.96 113.00,567.97 111.50,567.98 110.00,567.99 108.50,568.01 107.00,568.02 105.50,568.03 104.00,568.04 102.50,568.05 101.00,568.07 99.50,568.08 98.00,568.09 96.50,568.10 95.00,568.12 93.50,568.13 92.00,568.14 90.50,568.15 89.00,568.17 87.50,568.18 86.00,568.19 84.50,568.20 83.00,568.22 81.50,568.23 80.00,568.24 78.50,568.25 77.00,568.26 75.50,568.28 74.00,568.29 72.50,568.30 71.00,568.31 69.50,568.33 68.00,568.34 66.50,568.35 65.00,568.36 63.50,568.38 62.00,568.39 60.50,568.40" fill="#1f77b4" fill-opacity="0.1" stroke="#1f77b4" stroke-opacity="0.1" stroke-width="1.39" stroke-linejoin="round"/>
<polygon points="666.90,513.00 667.90,512.88 668.90,512.76 669.90,512.65 670.90,512.53 671.90,512.41 672.90,511.79 673.90,511.12 674.90,510.44 675.90,509.77 676.90,509.09 677.90,508.42 678.90,507.74 679.90,507.07 680.90,506.33 681.90,505.58 682.90,504.83 683.90,504.08 684.90,503.33 685.90,502.58 686.90,501.83 687.90,501.08 688.90,500.10 689.90,499.10 690.90,498.10 691.90,497.10 692.90,496.10 693.90,495.10 694.90,495.00 695.90,495.00 696.90,495.00 697.90,495.00 698.90,495.00 699.90,495.00 700.90,493.43 701.90,491.68 702.90,489.93 703.90,488.18 704.90,488.90 705.90,489.90 706.90,490.90 707.90,490.10 708.90,489.10 709.90,488.10 710.90,487.10 711.90,484.08 712.90,480.83 713.90,477.58 714.90,474.33 715.90,472.29 716.90,470.39 717.90,468.49 718.90,466.59 719.90,467.70 720.90,469.14 721.90,470.58 722.90,472.02 723.90,473.46 724.90,472.91 725.90,472.14 726.90,471.38 727.90,470.61 728.90,469.84 729.90,469.08 730.90,467.80 731.90,466.47 732.90,465.13 733.90,463.80 734.90,462.47 735.90,461.13 736.90,459.05 737.90,456.88 738.90,454.72 739.90,452.55 740.90,450.38 741.90,448.22 742.90,445.30 743.90,442.30 744.90,439.30 745.90,439.67 746.90,440.42 747.90,441.17 748.90,441.92 749.90,440.20 750.90,438.20 751.90,436.20 752.90,434.20 753.90,432.20 754.90,430.20 755.90,427.84 756.90,425.44 757.90,423.04 758.90,420.64 759.90,418.24 760.90,416.35 761.90,414.52 762.90,412.68 763.90,410.85 764.90,409.02 765.90,407.18 766.90,406.25 767.90,405.42 768.90,404.58 769.90,403.75 770.90,402.92 771.90,402.08 772.90,400.65 773.90,399.15 774.90,397.65 775.90,396.15 776.90,394.65 777.90,393.15 778.90,392.10 779.90,391.10 780.90,390.10 781.90,389.10 782.90,388.10 783.90,387.10 784.90,386.40 785.50,386.00 785.50,556.30 784.90,556.08 783.90,555.71 782.90,555.33 781.90,555.01 780.90,555.16 779.90,555.31 778.90,555.47 777.90,555.62 776.90,555.76 775.90,555.90 774.90,555.92 773.90,555.94 772.90,555.96 771.90,555.98 770.90,556.00 769.90,556.02 768.90,556.04 767.90,556.06 766.90,556.08 765.90,556.15 764.90,556.70 763.90,557.24 762.90,557.78 761.90,557.97 760.90,557.91 759.90,557.86 758.90,557.81 757.90,557.75 756.90,557.70 755.90,557.65 754.90,557.63 753.90,557.92 752.90,558.20 751.90,558.49 750.90,558.75 749.90,558.79 748.90,558.84 747.90,558.88 746.90,558.92 745.90,558.96 744.90,559.00 743.90,559.04 742.90,559.08 741.90,559.12 740.90,559.16 739.90,559.20 738.90,559.24 737.90,559.28 736.90,559.32 735.90,559.36 734.90,559.40 733.90,559.44 732.90,559.48 731.90,559.52 730.90,559.56 729.90,559.60 728.90,559.64 727.90,559.68 726.90,559.72 725.90,559.76 724.90,559.80 723.90,559.84 722.90,559.88 721.90,559.92 720.90,559.96 719.90,560.01 718.90,560.07 717.90,560.13 716.90,560.19 715.90,560.25 714.90,560.31 713.90,560.37 712.90,560.43 711.90,560.49 710.90,560.55 709.90,560.61 708.90,560.67 707.90,560.73 706.90,560.79 705.90,560.85 704.90,560.91 703.90,560.97 702.90,561.03 701.90,561.09 700.90,561.15 699.90,561.21 698.90,561.35 697.90,561.49 696.90,561.63 695.90,561.77 694.90,561.91 693.90,561.97 692.90,562.04 691.90,562.10 690.90,562.17 689.90,562.24 688.90,562.30 687.90,562.37 686.90,562.43 685.90,562.50 684.90,562.56 683.90,562.63 682.90,562.70 681.90,562.76 680.90,562.83 679.90,562.89 678.90,562.96 677.90,563.03 676.90,563.09 675.90,563.16 674.90,563.22 673.90,563.29 672.90,563.35 671.90,563.42 670.90,563.49 669.90,563.55 668.90,563.62 667.90,563.68 666.90,563.75" fill="#1f77b4" fill-opacity="0.1" stroke="#1f77b4" stroke-opacity="0.1" stroke-width="1.39" stroke-linejoin="round"/>
<polygon points="666.90,528.75 667.90,528.43 668.90,528.10 669.90,527.78 670.90,527.45 671.90,527.13 672.90,526.80 673.90,526.48 674.90,526.15 675.90,525.83 676.90,525.51 677.90,525.18 678.90,524.86 679.90,524.53 680.90,524.05 681.90,523.55 682.90,523.05 683.90,522.55 684.90,522.05 685.90,521.55 686.90,521.05 687.90,520.55 688.90,520.05 689.90,519.55 690.90,519.05 691.90,518.55 692.90,518.05 693.90,517.55 694.90,517.05 695.90,516.46 696.90,515.86 697.90,515.26 698.90,514.66 699.90,514.06 700.90,513.46 701.90,512.86 702.90,512.26 703.90,511.66 704.90,511.06 705.90,510.46 706.90,509.86 707.90,509.26 708.90,508.66 709.90,508.06 710.90,507.46 711.90,506.86 712.90,506.26 713.90,505.66 714.90,505.06 715.90,504.46 716.90,503.86 717.90,503.26 718.90,502.66 719.90,502.06 720.90,501.28 721.90,500.48 722.90,499.68 723.90,498.88 724.90,498.08 725.90,497.28 726.90,496.48 727.90,495.68 728.90,494.88 729.90,494.08 730.90,493.28 731.90,492.48 732.90,491.68 733.90,490.88 734.90,490.08 735.90,489.28 736.90,488.48 737.90,487.68 738.90,486.88 739.90,486.08 740.90,485.37 741.90,484.67 742.90,483.97 743.90,483.27 744.90,482.57 745.90,481.87 746.90,481.17 747.90,480.47 748.90,479.77 749.90,479.07 750.90,477.65 751.90,476.15 752.90,474.65 753.90,473.15 754.90,471.65 755.90,470.15 756.90,468.65 757.90,467.15 758.90,465.65 759.90,464.15 760.90,463.10 761.90,462.10 762.90,461.10 763.90,460.10 764.90,459.10 765.90,458.10 766.90,457.10 767.90,456.10 768.90,455.10 769.90,454.10 770.90,453.01 771.90,451.91 772.90,450.81 773.90,449.71 774.90,448.61 775.90,447.51 776.90,446.41 777.90,445.31 778.90,444.21 779.90,443.11 780.90,442.18 781.90,441.27 782.90,440.36 783.90,439.45 784.90,438.55 785.50,438.00 785.50,545.60 784.90,545.68 783.90,545.81 782.90,545.95 781.90,546.08 780.90,546.21 779.90,546.35 778.90,546.48 777.90,546.61 776.90,546.75 775.90,546.88 774.90,547.01 773.90,547.15 772.90,547.28 771.90,547.41 770.90,547.55 769.90,547.68 768.90,547.81 767.90,547.95 766.90,548.08 765.90,548.21 764.90,548.35 763.90,548.48 762.90,548.61 761.90,548.75 760.90,548.88 759.90,549.01 758.90,549.13 757.90,549.24 756.90,549.36 755.90,549.47 754.90,549.59 753.90,549.70 752.90,549.82 751.90,549.93 750.90,550.05 749.90,550.16 748.90,550.28 747.90,550.39 746.90,550.51 745.90,550.62 744.90,550.74 743.90,550.85 742.90,550.97 741.90,551.08 740.90,551.20 739.90,551.31 738.90,551.42 737.90,551.52 736.90,551.63 735.90,551.73 734.90,551.84 733.90,551.94 732.90,552.05 731.90,552.15 730.90,552.26 729.90,552.36 728.90,552.47 727.90,552.57 726.90,552.68 725.90,552.78 724.90,552.89 723.90,552.99 722.90,553.10 721.90,553.20 720.90,553.31 719.90,553.41 718.90,553.52 717.90,553.62 716.90,553.73 715.90,553.83 714.90,553.94 713.90,554.04 712.90,554.15 711.90,554.25 710.90,554.36 709.90,554.46 708.90,554.57 707.90,554.67 706.90,554.78 705.90,554.88 704.90,554.99 703.90,555.09 702.90,555.20 701.90,555.30 700.90,555.41 699.90,555.51 698.90,555.58 697.90,555.66 696.90,555.73 695.90,555.81 694.90,555.89 693.90,555.96 692.90,556.04 691.90,556.11 690.90,556.19 689.90,556.26 688.90,556.34 687.90,556.41 686.90,556.49 685.90,556.56 684.90,556.64 683.90,556.72 682.90,556.79 681.90,556.87 680.90,556.94 679.90,557.02 678.90,557.09 677.90,557.17 676.90,557.24 675.90,557.32 674.90,557.40 673.90,557.47 672.90,557.55 671.90,557.62 670.90,557.70 669.90,557.77 668.90,557.85 667.90,557.92 666.90,558.00" fill="#1f77b4" fill-opacity="0.1" stroke="#1f77b4" stroke-opacity="0.1" stroke-width="1.39" stroke-linejoin="round"/>
<polygon points="666.90,537.00 667.90,536.77 668.90,536.54 669.90,536.31 670.90,536.08 671.90,535.85 672.90,535.63 673.90,535.40 674.90,535.17 675.90,534.94 676.90,534.71 677.90,534.48 678.90,534.25 679.90,534.02 680.90,533.67 681.90,533.30 682.90,532.94 683.90,532.57 684.90,532.20 685.90,531.84 686.90,531.47 687.90,531.10 688.90,530.74 689.90,530.37 690.90,530.00 691.90,529.64 692.90,529.27 693.90,528.90 694.90,528.54 695.90,528.05 696.90,527.55 697.90,527.05 698.90,526.55 699.90,526.05 700.90,525.60 701.90,525.14 702.90,524.70 703.90,524.25 704.90,523.79 705.90,523.35 706.90,522.89 707.90,522.45 708.90,522.00 709.90,521.54 710.90,521.10 711.90,520.64 712.90,520.20 713.90,519.75 714.90,519.29 715.90,518.85 716.90,518.39 717.90,517.95 718.90,517.50 719.90,517.04 720.90,516.50 721.90,515.96 722.90,515.40 723.90,514.86 724.90,514.31 725.90,513.75 726.90,513.21 727.90,512.65 728.90,512.11 729.90,511.56 730.90,511.00 731.90,510.45 732.90,509.91 733.90,509.36 734.90,508.81 735.90,508.25 736.90,507.71 737.90,507.16 738.90,506.61 739.90,506.06 740.90,505.40 741.90,504.73 742.90,504.07 743.90,503.40 744.90,502.73 745.90,502.07 746.90,501.40 747.90,500.73 748.90,500.07 749.90,499.40 750.90,498.73 751.90,498.07 752.90,497.66 753.90,497.29 754.90,496.91 755.90,496.54 756.90,496.16 757.90,495.79 758.90,495.41 759.90,495.04 760.90,494.37 761.90,493.67 762.90,492.97 763.90,492.27 764.90,491.57 765.90,490.87 766.90,490.17 767.90,489.47 768.90,488.77 769.90,488.07 770.90,487.33 771.90,486.58 772.90,485.83 773.90,485.08 774.90,484.33 775.90,483.58 776.90,482.83 777.90,482.08 778.90,481.40 779.90,480.73 780.90,480.07 781.90,479.40 782.90,478.73 783.90,478.07 784.90,477.40 785.50,477.00 785.50,532.00 784.90,532.14 783.90,532.38 782.90,532.61 781.90,532.85 780.90,533.08 779.90,533.32 778.90,533.55 777.90,533.79 776.90,534.02 775.90,534.26 774.90,534.49 773.90,534.73 772.90,534.96 771.90,535.20 770.90,535.44 769.90,535.67 768.90,535.91 767.90,536.14 766.90,536.38 765.90,536.61 764.90,536.85 763.90,537.08 762.90,537.32 761.90,537.55 760.90,537.79 759.90,538.02 758.90,538.22 757.90,538.42 756.90,538.62 755.90,538.82 754.90,539.02 753.90,539.22 752.90,539.42 751.90,539.62 750.90,539.82 749.90,540.02 748.90,540.22 747.90,540.42 746.90,540.62 745.90,540.82 744.90,541.02 743.90,541.22 742.90,541.42 741.90,541.62 740.90,541.82 739.90,542.02 738.90,542.22 737.90,542.42 736.90,542.62 735.90,542.82 734.90,543.02 733.90,543.22 732.90,543.42 731.90,543.62 730.90,543.82 729.90,544.02 728.90,544.22 727.90,544.42 726.90,544.62 725.90,544.82 724.90,545.02 723.90,545.22 722.90,545.42 721.90,545.62 720.90,545.82 719.90,546.02 718.90,546.22 717.90,546.42 716.90,546.62 715.90,546.82 714.90,547.02 713.90,547.22 712.90,547.42 711.90,547.62 710.90,547.82 709.90,548.02 708.90,548.22 707.90,548.42 706.90,548.62 705.90,548.82 704.90,549.02 703.90,549.22 702.90,549.42 701.90,549.62 700.90,549.82 699.90,550.01 698.90,550.13 697.90,550.25 696.90,550.37 695.90,550.50 694.90,550.62 693.90,550.74 692.90,550.86 691.90,550.98 690.90,551.10 689.90,551.22 688.90,551.34 687.90,551.46 686.90,551.58 685.90,551.70 684.90,551.82 683.90,551.95 682.90,552.07 681.90,552.19 680.90,552.31 679.90,552.43 678.90,552.55 677.90,552.67 676.90,552.79 675.90,552.91 674.90,553.03 673.90,553.15 672.90,553.27 671.90,553.40 670.90,553.52 669.90,553.64 668.90,553.76 667.90,553.88 666.90,554.00" fill="#1f77b4" fill-opacity="0.1" stroke="#1f77b4" stroke-opacity="0.1" stroke-width="1.39" stroke-linejoin="round"/>
</g>
<line x1="60.5" x2="785.5" y1="448.50" y2="448.50" stroke="#b0b0b0" stroke-width="1.0"/>
<line x1="60.5" x2="785.5" y1="328.50" y2="328.50" stroke="#b0b0b0" stroke-width="1.0"/>
<line x1="60.5" x2="785.5" y1="208.50" y2="208.50" stroke="#b0b0b0" stroke-width="1.0"/>
<line x1="60.5" x2="785.5" y1="88.50" y2="88.50" stroke="#b0b0b0" stroke-width="1.0"/>
<g clip-path="url(#c1)">
<polyline points="60.50,568.30 62.00,568.29 63.50,568.28 65.00,568.27 66.50,568.26 68.00,568.25 69.50,568.24 71.00,568.23 72.50,568.22 74.00,568.22 75.50,568.21 77.00,568.20 78.50,568.19 80.00,568.18 81.50,568.17 83.00,568.16 84.50,568.15 86.00,568.14 87.50,568.13 89.00,568.12 90.50,568.11 92.00,568.10 93.50,568.09 95.00,568.08 96.50,568.07 98.00,568.06 99.50,568.05 101.00,568.05 102.50,568.04 104.00,568.03 105.50,568.02 107.00,568.01 108.50,568.00 110.00,567.99 111.50,567.98 113.00,567.97 114.50,567.96 116.00,567.95 117.50,567.94 119.00,567.93 120.50,567.92 122.00,567.91 123.50,567.90 125.00,567.89 126.50,567.88 128.00,567.88 129.50,567.87 131.00,567.86 132.50,567.85 134.00,567.84 135.50,567.83 137.00,567.82 138.50,567.81 140.00,567.80 141.50,567.73 143.00,567.67 144.50,567.61 146.00,567.54 147.50,567.47 149.00,567.41 150.50,567.35 152.00,567.28 153.50,567.21 155.00,567.15 156.50,567.09 158.00,567.02 159.50,566.95 161.00,566.89 162.50,566.83 164.00,566.76 165.50,566.69 167.00,566.63 168.50,566.57 170.00,566.50 171.50,566.38 173.00,566.25 174.50,566.12 176.00,566.00 177.50,565.88 179.00,565.75 180.50,565.62 182.00,565.50 183.50,565.38 185.00,565.25 186.50,565.12 188.00,565.00 189.50,564.88 191.00,564.75 192.50,564.62 194.00,564.50 195.50,564.38 197.00,564.25 198.50,564.12 200.00,564.00 201.50,563.85 203.00,563.70 204.50,563.55 206.00,563.40 207.50,563.25 209.00,563.10 210.50,562.95 212.00,562.80 213.50,562.65 215.00,562.50 216.50,562.35 218.00,562.20 219.50,562.05 221.00,561.90 222.50,561.75 224.00,561.60 225.50,561.45 227.00,561.30 228.50,561.15 230.00,561.01 231.50,560.86 233.00,560.72 234.50,560.57 236.00,560.43 237.50,560.29 239.00,560.14 240.50,560.00 242.00,559.85 243.50,559.71 245.00,559.56 246.50,559.42 248.00,559.27 249.50,559.13 251.00,558.98 252.50,558.84 254.00,558.69 255.50,558.55 257.00,558.43 258.50,558.31 260.00,558.20 261.50,558.09 263.00,557.98 264.50,557.87 266.00,557.76 267.50,557.64 269.00,557.53 270.50,557.42 272.00,557.31 273.50,557.20 275.00,557.09 276.50,556.97 278.00,556.87 279.50,556.78 281.00,556.70 282.50,556.61 284.00,556.52 285.50,556.43 287.00,556.34 288.50,556.26 290.00,556.17 291.50,556.08 293.00,555.99 294.50,555.91 296.00,555.82 297.50,555.73 299.00,555.64 300.50,555.56 302.00,555.47 303.50,555.38 305.00,555.29 306.50,555.20 308.00,555.12 309.50,555.03 311.00,555.00 312.50,555.00 314.00,555.00 315.50,555.00 317.00,555.00 318.50,555.00 320.00,555.00 321.50,555.00 323.00,555.00 324.50,555.00 326.00,555.00 327.50,555.00 329.00,555.00 330.50,555.00 332.00,555.00 333.50,555.00 335.00,555.00 336.50,555.00 338.00,555.00 339.50,555.00 341.00,555.00 342.50,555.00 344.00,555.00 345.50,555.00 347.00,555.00 348.50,555.00 350.00,555.00 351.50,555.00 353.00,555.00 354.50,555.02 356.00,555.09 357.50,555.15 359.00,555.22 360.50,555.28 362.00,555.35 363.50,555.41 365.00,555.48 366.50,555.54 368.00,555.61 369.50,555.67 371.00,555.74 372.50,555.80 374.00,555.87 375.50,555.93 377.00,556.00 378.50,556.07 380.00,556.13 381.50,556.20 383.00,556.26 384.50,556.33 386.00,556.39 387.50,556.46 389.00,556.52 390.50,556.59 392.00,556.65 393.50,556.72 395.00,556.78 396.50,556.85 398.00,556.91 399.50,556.98 401.00,557.07 402.50,557.17 404.00,557.27 405.50,557.37 407.00,557.47 408.50,557.57 410.00,557.67 411.50,557.77 413.00,557.88 414.50,557.98 416.00,558.08 417.50,558.18 419.00,558.28 420.50,558.38 422.00,558.48 423.50,558.58 425.00,558.68 426.50,558.78 428.00,558.88 429.50,558.98 431.00,559.07 432.50,559.17 434.00,559.26 435.50,559.36 437.00,559.46 438.50,559.55 440.00,559.65 441.50,559.75 443.00,559.84 444.50,559.94 446.00,560.04 447.50,560.13 449.00,560.23 450.50,560.33 452.00,560.42 453.50,560.52 455.00,560.61 456.50,560.71 458.00,560.81 459.50,560.90 461.00,561.00 462.50,561.10 464.00,561.19 465.50,561.29 467.00,561.39 468.50,561.48 470.00,561.58 471.50,561.67 473.00,561.77 474.50,561.87 476.00,561.90 477.50,561.91 479.00,561.92 480.50,561.92 482.00,561.93 483.50,561.93 485.00,561.94 486.50,561.95 488.00,561.95 489.50,561.96 491.00,561.96 492.50,561.97 494.00,561.98 495.50,561.98 497.00,561.99 498.50,561.99 500.00,562.00 501.50,561.95 503.00,561.90 504.50,561.85 506.00,561.80 507.50,561.75 509.00,561.70 510.50,561.65 512.00,561.60 513.50,561.55 515.00,561.50 516.50,561.45 518.00,561.40 519.50,561.35 521.00,561.30 522.50,561.25 524.00,561.20 525.50,561.15 527.00,561.10 528.50,561.05 530.00,561.00 531.50,560.95 533.00,560.90 534.50,560.85 536.00,560.80 537.50,560.75 539.00,560.70 540.50,560.65 542.00,560.60 543.50,560.55 545.00,560.50 546.50,560.45 548.00,560.40 549.50,560.35 551.00,560.30 552.50,560.25 554.00,560.20 555.50,560.15 557.00,560.10 558.50,560.05 560.00,560.00 561.50,559.89 563.00,559.77 564.50,559.66 566.00,559.55 567.50,559.44 569.00,559.33 570.50,559.21 572.00,559.10 573.50,558.99 575.00,558.88 576.50,558.76 578.00,558.65 579.50,558.54 581.00,558.42 582.50,558.31 584.00,558.20 585.50,558.09 587.00,557.98 588.50,557.86 590.00,557.75 591.50,557.64 593.00,557.52 594.50,557.41 596.00,557.30 597.50,557.19 599.00,557.08 600.50,556.95 602.00,556.81 603.50,556.67 605.00,556.53 606.50,556.39 608.00,556.25 609.50,556.11 611.00,555.97 612.50,555.83 614.00,555.69 615.50,555.52 617.00,555.28 618.50,555.04 620.00,554.80 621.50,554.56 623.00,554.32 624.50,554.08 626.00,553.85 627.50,553.61 629.00,553.37 630.50,553.13 632.00,552.89 633.50,552.65 635.00,552.41 636.50,552.17 638.00,551.91 639.50,551.66 641.00,551.41 642.50,551.16 644.00,550.91 645.50,550.65 647.00,550.40 648.50,550.15 650.00,549.80 651.50,549.29 653.00,548.78 654.50,548.96 656.00,549.18 657.50,549.40 659.00,549.20 660.50,549.01 662.00,548.82 662.50,548.75" fill="none" stroke="#1f77b4" stroke-width="2.08" stroke-linejoin="round"/>
<polyline points="666.90,547.00 667.90,546.69 668.90,546.39 669.90,546.08 670.90,545.77 671.90,545.47 672.90,545.16 673.90,544.85 674.90,544.87 675.90,545.22 676.90,545.56 677.90,545.91 678.90,546.14 679.90,545.74 680.90,545.34 681.90,544.94 682.90,544.57 683.90,544.24 684.90,543.92 685.90,543.59 686.90,543.27 687.90,542.94 688.90,542.62 689.90,542.29 690.90,541.96 691.90,541.64 692.90,541.31 693.90,540.99 694.90,540.66 695.90,540.34 696.90,540.01 697.90,539.68 698.90,539.36 699.90,539.03 700.90,538.73 701.90,538.43 702.90,538.13 703.90,537.83 704.90,537.53 705.90,537.23 706.90,536.93 707.90,536.63 708.90,536.33 709.90,536.03 710.90,535.73 711.90,535.43 712.90,535.13 713.90,534.83 714.90,534.53 715.90,534.23 716.90,533.93 717.90,533.63 718.90,533.33 719.90,533.03 720.90,532.77 721.90,532.52 722.90,532.27 723.90,532.02 724.90,531.77 725.90,531.52 726.90,531.27 727.90,531.02 728.90,530.77 729.90,530.52 730.90,530.27 731.90,530.02 732.90,529.77 733.90,529.52 734.90,529.27 735.90,529.02 736.90,528.77 737.90,528.52 738.90,528.27 739.90,528.02 740.90,527.55 741.90,527.05 742.90,526.55 743.90,526.05 744.90,525.55 745.90,525.05 746.90,524.55 747.90,524.05 748.90,523.55 749.90,523.05 750.90,522.64 751.90,522.24 752.90,521.84 753.90,521.44 754.90,521.04 755.90,520.64 756.90,520.24 757.90,519.84 758.90,519.44 759.90,519.04 760.90,518.64 761.90,518.24 762.90,517.84 763.90,517.44 764.90,517.04 765.90,516.64 766.90,516.24 767.90,515.84 768.90,515.44 769.90,515.04 770.90,514.42 771.90,513.78 772.90,513.14 773.90,512.50 774.90,511.86 775.90,511.22 776.90,510.58 777.90,509.94 778.90,509.30 779.90,508.66 780.90,508.60 781.90,508.60 782.90,508.60 783.90,508.60 784.90,508.60 785.50,508.60" fill="none" stroke="#1f77b4" stroke-width="2.08" stroke-linejoin="round"/>
</g>
<g clip-path="url(#c1)" fill="#ff7f0e" stroke="#ff7f0e" stroke-width="1.39">
<circle cx="60.50" cy="568.50" r="4.17"/>
<circle cx="64.89" cy="568.50" r="4.17"/>
<circle cx="69.29" cy="568.50" r="4.17"/>
<circle cx="73.68" cy="568.50" r="4.17"/>
<circle cx="78.08" cy="568.50" r="4.17"/>
<circle cx="82.47" cy="568.50" r="4.17"/>
<circle cx="86.86" cy="568.50" r="4.17"/>
<circle cx="91.26" cy="568.50" r="4.17"/>
<circle cx="95.65" cy="568.50" r="4.17"/>
<circle cx="100.05" cy="568.50" r="4.17"/>
<circle cx="104.44" cy="568.50" r="4.17"/>
<circle cx="108.83" cy="568.50" r="4.17"/>
<circle cx="113.23" cy="568.50" r="4.17"/>
<circle cx="117.62" cy="568.50" r="4.17"/>
<circle cx="122.02" cy="568.50" r="4.17"/>
<circle cx="126.41" cy="565.38" r="4.17"/>
<circle cx="130.80" cy="567.06" r="4.17"/>
<circle cx="135.20" cy="568.02" r="4.17"/>
<circle cx="139.59" cy="568.02" r="4.17"/>
<circle cx="143.98" cy="568.26" r="4.17"/>
<circle cx="148.38" cy="567.30" r="4.17"/>
<circle cx="152.77" cy="566.34" r="4.17"/>
<circle cx="157.17" cy="566.82" r="4.17"/>
<circle cx="161.56" cy="564.42" r="4.17"/>
<circle cx="165.95" cy="562.26" r="4.17"/>
<circle cx="170.35" cy="566.82" r="4.17"/>
<circle cx="174.74" cy="566.34" r="4.17"/>
<circle cx="179.14" cy="564.90" r="4.17"/>
<circle cx="183.53" cy="563.46" r="4.17"/>
<circle cx="187.92" cy="564.18" r="4.17"/>
<circle cx="192.32" cy="565.14" r="4.17"/>
<circle cx="196.71" cy="565.14" r="4.17"/>
<circle cx="201.11" cy="563.46" r="4.17"/>
<circle cx="205.50" cy="564.18" r="4.17"/>
<circle cx="209.89" cy="565.14" r="4.17"/>
<circle cx="214.29" cy="564.90" r="4.17"/>
<circle cx="218.68" cy="564.66" r="4.17"/>
<circle cx="223.08" cy="566.34" r="4.17"/>
<circle cx="227.47" cy="565.62" r="4.17"/>
<circle cx="231.86" cy="565.62" r="4.17"/>
<circle cx="236.26" cy="563.70" r="4.17"/>
<circle cx="240.65" cy="566.10" r="4.17"/>
<circle cx="245.05" cy="563.70" r="4.17"/>
<circle cx="249.44" cy="562.74" r="4.17"/>
<circle cx="253.83" cy="566.34" r="4.17"/>
<circle cx="258.23" cy="536.34" r="4.17"/>
<circle cx="262.62" cy="555.30" r="4.17"/>
<circle cx="267.02" cy="558.66" r="4.17"/>
<circle cx="271.41" cy="563.70" r="4.17"/>
<circle cx="275.80" cy="560.58" r="4.17"/>
<circle cx="280.20" cy="561.54" r="4.17"/>
<circle cx="284.59" cy="558.66" r="4.17"/>
<circle cx="288.98" cy="555.06" r="4.17"/>
<circle cx="293.38" cy="552.42" r="4.17"/>
<circle cx="297.77" cy="550.02" r="4.17"/>
<circle cx="302.17" cy="557.46" r="4.17"/>
<circle cx="306.56" cy="558.66" r="4.17"/>
<circle cx="310.95" cy="560.34" r="4.17"/>
<circle cx="315.35" cy="559.86" r="4.17"/>
<circle cx="319.74" cy="557.46" r="4.17"/>
<circle cx="324.14" cy="559.38" r="4.17"/>
<circle cx="328.53" cy="560.58" r="4.17"/>
<circle cx="332.92" cy="558.18" r="4.17"/>
<circle cx="337.32" cy="555.30" r="4.17"/>
<circle cx="341.71" cy="557.46" r="4.17"/>
<circle cx="346.11" cy="555.30" r="4.17"/>
<circle cx="350.50" cy="558.66" r="4.17"/>
<circle cx="354.89" cy="562.50" r="4.17"/>
<circle cx="359.29" cy="562.50" r="4.17"/>
<circle cx="363.68" cy="556.26" r="4.17"/>
<circle cx="368.08" cy="550.02" r="4.17"/>
<circle cx="372.47" cy="553.14" r="4.17"/>
<circle cx="376.86" cy="557.22" r="4.17"/>
<circle cx="381.26" cy="547.38" r="4.17"/>
<circle cx="385.65" cy="556.26" r="4.17"/>
<circle cx="390.05" cy="561.30" r="4.17"/>
<circle cx="394.44" cy="553.14" r="4.17"/>
<circle cx="398.83" cy="544.02" r="4.17"/>
<circle cx="403.23" cy="536.34" r="4.17"/>
<circle cx="407.62" cy="547.38" r="4.17"/>
<circle cx="412.02" cy="557.22" r="4.17"/>
<circle cx="416.41" cy="556.26" r="4.17"/>
<circle cx="420.80" cy="559.38" r="4.17"/>
<circle cx="429.59" cy="563.70" r="4.17"/>
<circle cx="433.98" cy="558.18" r="4.17"/>
<circle cx="438.38" cy="559.38" r="4.17"/>
<circle cx="442.77" cy="560.10" r="4.17"/>
<circle cx="447.17" cy="562.50" r="4.17"/>
<circle cx="451.56" cy="556.98" r="4.17"/>
<circle cx="455.95" cy="562.50" r="4.17"/>
<circle cx="460.35" cy="560.10" r="4.17"/>
<circle cx="464.74" cy="562.02" r="4.17"/>
<circle cx="469.14" cy="558.66" r="4.17"/>
<circle cx="473.53" cy="550.98" r="4.17"/>
<circle cx="477.92" cy="556.98" r="4.17"/>
<circle cx="482.32" cy="563.22" r="4.17"/>
<circle cx="486.71" cy="562.50" r="4.17"/>
<circle cx="491.11" cy="558.66" r="4.17"/>
<circle cx="495.50" cy="559.38" r="4.17"/>
<circle cx="499.89" cy="560.34" r="4.17"/>
<circle cx="504.29" cy="558.18" r="4.17"/>
<circle cx="508.68" cy="563.22" r="4.17"/>
<circle cx="513.08" cy="563.22" r="4.17"/>
<circle cx="517.47" cy="562.50" r="4.17"/>
<circle cx="521.86" cy="558.18" r="4.17"/>
<circle cx="526.26" cy="562.26" r="4.17"/>
<circle cx="530.65" cy="560.10" r="4.17"/>
<circle cx="535.05" cy="562.50" r="4.17"/>
<circle cx="539.44" cy="558.90" r="4.17"/>
<circle cx="543.83" cy="562.02" r="4.17"/>
<circle cx="548.23" cy="564.90" r="4.17"/>
<circle cx="552.62" cy="558.18" r="4.17"/>
<circle cx="557.02" cy="560.58" r="4.17"/>
<circle cx="561.41" cy="562.26" r="4.17"/>
<circle cx="565.80" cy="559.38" r="4.17"/>
<circle cx="570.20" cy="559.38" r="4.17"/>
<circle cx="574.59" cy="558.42" r="4.17"/>
<circle cx="578.98" cy="559.38" r="4.17"/>
<circle cx="583.38" cy="559.38" r="4.17"/>
<circle cx="587.77" cy="558.66" r="4.17"/>
<circle cx="592.17" cy="553.86" r="4.17"/>
<circle cx="596.56" cy="556.02" r="4.17"/>
<circle cx="600.95" cy="559.38" r="4.17"/>
<circle cx="605.35" cy="560.58" r="4.17"/>
<circle cx="609.74" cy="557.46" r="4.17"/>
<circle cx="614.14" cy="551.22" r="4.17"/>
<circle cx="618.53" cy="544.50" r="4.17"/>
<circle cx="622.92" cy="548.10" r="4.17"/>
<circle cx="627.32" cy="546.90" r="4.17"/>
<circle cx="631.71" cy="545.70" r="4.17"/>
<circle cx="636.11" cy="542.10" r="4.17"/>
<circle cx="640.50" cy="556.50" r="4.17"/>
<circle cx="644.89" cy="551.46" r="4.17"/>
<circle cx="649.29" cy="544.50" r="4.17"/>
<circle cx="653.68" cy="538.50" r="4.17"/>
<circle cx="658.08" cy="541.62" r="4.17"/>
<circle cx="662.47" cy="541.38" r="4.17"/>
<circle cx="666.86" cy="543.78" r="4.17"/>
<circle cx="671.26" cy="549.30" r="4.17"/>
<circle cx="675.65" cy="530.10" r="4.17"/>
<circle cx="680.05" cy="538.50" r="4.17"/>
<circle cx="684.44" cy="539.46" r="4.17"/>
<circle cx="688.83" cy="539.22" r="4.17"/>
<circle cx="693.23" cy="535.38" r="4.17"/>
<circle cx="697.62" cy="542.58" r="4.17"/>
<circle cx="702.02" cy="531.30" r="4.17"/>
<circle cx="706.41" cy="548.10" r="4.17"/>
<circle cx="710.80" cy="551.46" r="4.17"/>
<circle cx="715.20" cy="528.18" r="4.17"/>
<circle cx="719.59" cy="536.58" r="4.17"/>
<circle cx="723.98" cy="554.34" r="4.17"/>
<circle cx="728.38" cy="538.26" r="4.17"/>
<circle cx="732.77" cy="533.46" r="4.17"/>
<circle cx="737.17" cy="538.26" r="4.17"/>
<circle cx="741.56" cy="539.70" r="4.17"/>
<circle cx="745.95" cy="532.50" r="4.17"/>
<circle cx="750.35" cy="525.30" r="4.17"/>
<circle cx="754.74" cy="547.62" r="4.17"/>
<circle cx="759.14" cy="540.42" r="4.17"/>
<circle cx="763.53" cy="527.46" r="4.17"/>
<circle cx="767.92" cy="548.34" r="4.17"/>
<circle cx="772.32" cy="520.26" r="4.17"/>
<circle cx="776.71" cy="532.26" r="4.17"/>
<circle cx="781.11" cy="539.70" r="4.17"/>
<circle cx="785.50" cy="533.94" r="4.17"/>
</g>
<line x1="662" x2="662" y1="578.84" y2="15.5" stroke="#1f77b4" stroke-opacity="0.5" stroke-width="2.08" stroke-dasharray="7.71 3.33" clip-path="url(#c1)"/>
<g clip-path="url(#c2)">
<polygon points="60.50,1098.62 64.89,1136.12 69.29,1136.12 73.68,1136.12 78.08,1136.12 82.47,1136.12 86.86,1136.12 91.26,1136.12 95.65,1136.12 100.05,1136.12 104.44,1136.12 108.83,1136.12 113.23,1136.12 117.62,1136.12 122.02,1136.12 126.41,1136.12 130.80,1136.12 135.20,1136.12 139.59,1136.12 143.98,1136.12 148.38,1136.12 152.77,1136.12 157.17,1136.12 161.56,1136.12 165.95,1136.12 170.35,1136.12 174.74,1136.12 179.14,1136.12 183.53,1136.12 187.92,1136.12 192.32,1136.12 196.71,1136.12 201.11,1136.12 205.50,1126.75 209.89,1126.75 214.29,1126.75 218.68,1126.75 223.08,1126.75 227.47,1126.75 231.86,1126.75 236.26,1126.75 240.65,1126.75 245.05,1126.75 249.44,1126.75 253.83,1126.75 258.23,1126.75 262.62,1117.38 267.02,1126.75 271.41,1117.38 275.80,1117.38 280.20,1117.38 284.59,1117.38 288.98,1117.38 293.38,1117.38 297.77,1108.00 302.17,1108.00 306.56,1108.00 310.95,1108.00 315.35,1108.00 319.74,1108.00 324.14,1108.00 328.53,1108.00 332.92,1108.00 337.32,1108.00 341.71,1108.00 346.11,1108.00 350.50,1108.00 354.89,1108.00 359.29,1108.00 363.68,1108.00 368.08,1098.62 372.47,1098.62 376.86,1108.00 381.26,1108.00 385.65,1108.00 390.05,1108.00 394.44,1098.62 398.83,1108.00 403.23,1108.00 407.62,1098.62 412.02,1098.62 416.41,1108.00 420.80,1108.00 425.20,1108.00 429.59,1098.62 433.98,1108.00 438.38,1108.00 442.77,1108.00 447.17,1108.00 451.56,1108.00 455.95,1108.00 460.35,1108.00 464.74,1108.00 469.14,1108.00 473.53,1108.00 477.92,1108.00 482.32,1108.00 486.71,1117.38 491.11,1117.38 495.50,1108.00 499.89,1108.00 504.29,1117.38 508.68,1117.38 513.08,1117.38 517.47,1117.38 521.86,1117.38 526.26,1117.38 530.65,1117.38 535.05,1117.38 539.44,1117.38 543.83,1117.38 548.23,1117.38 552.62,1117.38 557.02,1117.38 561.41,1117.38 565.80,1117.38 570.20,1117.38 574.59,1117.38 578.98,1117.38 583.38,1117.38 587.77,1117.38 592.17,1108.00 596.56,1117.38 600.95,1108.00 605.35,1117.38 609.74,1117.38 614.14,1108.00 618.53,1117.38 622.92,1108.00 627.32,1108.00 631.71,1108.00 636.11,1108.00 640.50,1108.00 644.89,1108.00 649.29,1108.00 653.68,1098.62 658.08,1108.00 662.47,1098.62 662.47,1145.50 658.08,1145.50 653.68,1145.50 649.29,1145.50 644.89,1145.50 640.50,1145.50 636.11,1145.50 631.71,1145.50 627.32,1145.50 622.92,1145.50 618.53,1145.50 614.14,1145.50 609.74,1145.50 605.35,1145.50 600.95,1145.50 596.56,1145.50 592.17,1145.50 587.77,1145.50 583.38,1145.50 578.98,1145.50 574.59,1145.50 570.20,1145.50 565.80,1145.50 561.41,1145.50 557.02,1145.50 552.62,1145.50 548.23,1145.50 543.83,1145.50 539.44,1145.50 535.05,1145.50 530.65,1145.50 526.26,1145.50 521.86,1145.50 517.47,1145.50 513.08,1145.50 508.68,1145.50 504.29,1145.50 499.89,1145.50 495.50,1145.50 491.11,1145.50 486.71,1145.50 482.32,1145.50 477.92,1145.50 473.53,1145.50 469.14,1145.50 464.74,1145.50 460.35,1145.50 455.95,1145.50 451.56,1145.50 447.17,1145.50 442.77,1145.50 438.38,1145.50 433.98,1145.50 429.59,1145.50 425.20,1145.50 420.80,1145.50 416.41,1145.50 412.02,1145.50 407.62,1145.50 403.23,1145.50 398.83,1145.50 394.44,1145.50 390.05,1145.50 385.65,1145.50 381.26,1145.50 376.86,1145.50 372.47,1145.50 368.08,1145.50 363.68,1145.50 359.29,1145.50 354.89,1145.50 350.50,1145.50 346.11,1145.50 341.71,1145.50 337.32,1145.50 332.92,1145.50 328.53,1145.50 324.14,1145.50 319.74,1145.50 315.35,1145.50 310.95,1145.50 306.56,1145.50 302.17,1145.50 297.77,1145.50 293.38,1145.50 288.98,1145.50 284.59,1145.50 280.20,1145.50 275.80,1145.50 271.41,1145.50 267.02,1145.50 262.62,1145.50 258.23,1145.50 253.83,1145.50 249.44,1145.50 245.05,1145.50 240.65,1145.50 236.26,1145.50 231.86,1145.50 227.47,1145.50 223.08,1145.50 218.68,1145.50 214.29,1145.50 209.89,1145.50 205.50,1145.50 201.11,1145.50 196.71,1145.50 192.32,1145.50 187.92,1145.50 183.53,1145.50 179.14,1145.50 174.74,1145.50 170.35,1145.50 165.95,1145.50 161.56,1145.50 157.17,1145.50 152.77,1145.50 148.38,1145.50 143.98,1145.50 139.59,1145.50 135.20,1145.50 130.80,1145.50 126.41,1145.50 122.02,1145.50 117.62,1145.50 113.23,1145.50 108.83,1145.50 104.44,1145.50 100.05,1145.50 95.65,1145.50 91.26,1145.50 86.86,1145.50 82.47,1145.50 78.08,1145.50 73.68,1145.50 69.29,1145.50 64.89,1145.50 60.50,1145.50" fill="#1f77b4" fill-opacity="0.1" stroke="#1f77b4" stroke-opacity="0.1" stroke-width="1.39" stroke-linejoin="round"/>
<polygon points="60.50,1126.75 64.89,1145.50 69.29,1145.50 73.68,1145.50 78.08,1145.50 82.47,1145.50 86.86,1145.50 91.26,1145.50 95.65,1145.50 100.05,1145.50 104.44,1145.50 108.83,1145.50 113.23,1145.50 117.62,1145.50 122.02,1145.50 126.41,1145.50 130.80,1145.50 135.20,1145.50 139.59,1145.50 143.98,1145.50 148.38,1145.50 152.77,1145.50 157.17,1145.50 161.56,1145.50 165.95,1145.50 170.35,1136.12 174.74,1136.12 179.14,1136.12 183.53,1136.12 187.92,1136.12 192.32,1136.12 196.71,1136.12 201.11,1136.12 205.50,1136.12 209.89,1136.12 214.29,1136.12 218.68,1136.12 223.08,1136.12 227.47,1136.12 231.86,1136.12 236.26,1136.12 240.65,1136.12 245.05,1136.12 249.44,1136.12 253.83,1126.75 258.23,1136.12 262.62,1126.75 267.02,1136.12 271.41,1126.75 275.80,1126.75 280.20,1126.75 284.59,1126.75 288.98,1126.75 293.38,1126.75 297.77,1126.75 302.17,1126.75 306.56,1126.75 310.95,1126.75 315.35,1126.75 319.74,1126.75 324.14,1126.75 328.53,1117.38 332.92,1117.38 337.32,1117.38 341.71,1117.38 346.11,1117.38 350.50,1117.38 354.89,1117.38 359.29,1117.38 363.68,1117.38 368.08,1117.38 372.47,1117.38 376.86,1117.38 381.26,1117.38 385.65,1117.38 390.05,1117.38 394.44,1117.38 398.83,1117.38 403.23,1117.38 407.62,1117.38 412.02,1117.38 416.41,1117.38 420.80,1117.38 425.20,1117.38 429.59,1117.38 433.98,1117.38 438.38,1117.38 442.77,1117.38 447.17,1117.38 451.56,1117.38 455.95,1117.38 460.35,1126.75 464.74,1117.38 469.14,1117.38 473.53,1117.38 477.92,1126.75 482.32,1126.75 486.71,1126.75 491.11,1126.75 495.50,1126.75 499.89,1126.75 504.29,1126.75 508.68,1126.75 513.08,1126.75 517.47,1126.75 521.86,1126.75 526.26,1126.75 530.65,1126.75 535.05,1126.75 539.44,1126.75 543.83,1126.75 548.23,1126.75 552.62,1126.75 557.02,1126.75 561.41,1126.75 565.80,1126.75 570.20,1126.75 574.59,1126.75 578.98,1126.75 583.38,1126.75 587.77,1126.75 592.17,1126.75 596.56,1126.75 600.95,1126.75 605.35,1126.75 609.74,1126.75 614.14,1126.75 618.53,1126.75 622.92,1126.75 627.32,1126.75 631.71,1117.38 636.11,1117.38 640.50,1117.38 644.89,1117.38 649.29,1117.38 653.68,1117.38 658.08,1117.38 662.47,1117.38 662.47,1145.50 658.08,1145.50 653.68,1145.50 649.29,1145.50 644.89,1145.50 640.50,1145.50 636.11,1145.50 631.71,1145.50 627.32,1145.50 622.92,1145.50 618.53,1145.50 614.14,1145.50 609.74,1145.50 605.35,1145.50 600.95,1145.50 596.56,1145.50 592.17,1145.50 587.77,1145.50 583.38,1145.50 578.98,1145.50 574.59,1145.50 570.20,1145.50 565.80,1145.50 561.41,1145.50 557.02,1145.50 552.62,1145.50 548.23,1145.50 543.83,1145.50 539.44,1145.50 535.05,1145.50 530.65,1145.50 526.26,1145.50 521.86,1145.50 517.47,1145.50 513.08,1145.50 508.68,1145.50 504.29,1145.50 499.89,1145.50 495.50,1145.50 491.11,1145.50 486.71,1145.50 482.32,1145.50 477.92,1145.50 473.53,1145.50 469.14,1145.50 464.74,1145.50 460.35,1145.50 455.95,1145.50 451.56,1145.50 447.17,1145.50 442.77,1145.50 438.38,1145.50 433.98,1145.50 429.59,1145.50 425.20,1145.50 420.80,1145.50 416.41,1145.50 412.02,1145.50 407.62,1145.50 403.23,1145.50 398.83,1145.50 394.44,1145.50 390.05,1145.50 385.65,1145.50 381.26,1145.50 376.86,1145.50 372.47,1145.50 368.08,1145.50 363.68,1145.50 359.29,1145.50 354.89,1145.50 350.50,1145.50 346.11,1145.50 341.71,1145.50 337.32,1145.50 332.92,1145.50 328.53,1145.50 324.14,1145.50 319.74,1145.50 315.35,1145.50 310.95,1145.50 306.56,1145.50 302.17,1145.50 297.77,1145.50 293.38,1145.50 288.98,1145.50 284.59,1145.50 280.20,1145.50 275.80,1145.50 271.41,1145.50 267.02,1145.50 262.62,1145.50 258.23,1145.50 253.83,1145.50 249.44,1145.50 245.05,1145.50 240.65,1145.50 236.26,1145.50 231.86,1145.50 227.47,1145.50 223.08,1145.50 218.68,1145.50 214.29,1145.50 209.89,1145.50 205.50,1145.50 201.11,1145.50 196.71,1145.50 192.32,1145.50 187.92,1145.50 183.53,1145.50 179.14,1145.50 174.74,1145.50 170.35,1145.50 165.95,1145.50 161.56,1145.50 157.17,1145.50 152.77,1145.50 148.38,1145.50 143.98,1145.50 139.59,1145.50 135.20,1145.50 130.80,1145.50 126.41,1145.50 122.02,1145.50 117.62,1145.50 113.23,1145.50 108.83,1145.50 104.44,1145.50 100.05,1145.50 95.65,1145.50 91.26,1145.50 86.86,1145.50 82.47,1145.50 78.08,1145.50 73.68,1145.50 69.29,1145.50 64.89,1145.50 60.50,1145.50" fill="#1f77b4" fill-opacity="0.1" stroke="#1f77b4" stroke-opacity="0.1" stroke-width="1.39" stroke-linejoin="round"/>
<polygon points="60.50,1136.12 64.89,1145.50 69.29,1145.50 73.68,1145.50 78.08,1145.50 82.47,1145.50 86.86,1145.50 91.26,1145.50 95.65,1145.50 100.05,1145.50 104.44,1145.50 108.83,1145.50 113.23,1145.50 117.62,1145.50 122.02,1145.50 126.41,1145.50 130.80,1145.50 135.20,1145.50 139.59,1145.50 143.98,1145.50 148.38,1145.50 152.77,1145.50 157.17,1145.50 161.56,1145.50 165.95,1145.50 170.35,1145.50 174.74,1145.50 179.14,1145.50 183.53,1145.50 187.92,1145.50 192.32,1145.50 196.71,1145.50 201.11,1145.50 205.50,1145.50 209.89,1145.50 214.29,1145.50 218.68,1145.50 223.08,1145.50 227.47,1145.50 231.86,1145.50 236.26,1136.12 240.65,1136.12 245.05,1136.12 249.44,1136.12 253.83,1136.12 258.23,1136.12 262.62,1136.12 267.02,1136.12 271.41,1136.12 275.80,1136.12 280.20,1136.12 284.59,1136.12 288.98,1136.12 293.38,1136.12 297.77,1136.12 302.17,1136.12 306.56,1136.12 310.95,1136.12 315.35,1126.75 319.74,1136.12 324.14,1136.12 328.53,1126.75 332.92,1136.12 337.32,1126.75 341.71,1126.75 346.11,1126.75 350.50,1126.75 354.89,1126.75 359.29,1126.75 363.68,1126.75 368.08,1126.75 372.47,1126.75 376.86,1126.75 381.26,1126.75 385.65,1126.75 390.05,1126.75 394.44,1126.75 398.83,1126.75 403.23,1126.75 407.62,1126.75 412.02,1126.75 416.41,1126.75 420.80,1126.75 425.20,1126.75 429.59,1126.75 433.98,1126.75 438.38,1126.75 442.77,1126.75 447.17,1126.75 451.56,1126.75 455.95,1126.75 460.35,1126.75 464.74,1136.12 469.14,1126.75 473.53,1136.12 477.92,1136.12 482.32,1136.12 486.71,1136.12 491.11,1136.12 495.50,1136.12 499.89,1136.12 504.29,1136.12 508.68,1136.12 513.08,1136.12 517.47,1136.12 521.86,1136.12 526.26,1136.12 530.65,1136.12 535.05,1136.12 539.44,1136.12 543.83,1136.12 548.23,1136.12 552.62,1136.12 557.02,1136.12 561.41,1136.12 565.80,1136.12 570.20,1136.12 574.59,1136.12 578.98,1136.12 583.38,1136.12 587.77,1136.12 592.17,1136.12 596.56,1136.12 600.95,1136.12 605.35,1136.12 609.74,1136.12 614.14,1136.12 618.53,1136.12 622.92,1136.12 627.32,1136.12 631.71,1136.12 636.11,1136.12 640.50,1126.75 644.89,1126.75 649.29,1126.75 653.68,1126.75 658.08,1126.75 662.47,1126.75 662.47,1145.50 658.08,1145.50 653.68,1145.50 649.29,1145.50 644.89,1145.50 640.50,1145.50 636.11,1145.50 631.71,1145.50 627.32,1145.50 622.92,1145.50 618.53,1145.50 614.14,1145.50 609.74,1145.50 605.35,1145.50 600.95,1145.50 596.56,1145.50 592.17,1145.50 587.77,1145.50 583.38,1145.50 578.98,1145.50 574.59,1145.50 570.20,1145.50 565.80,1145.50 561.41,1145.50 557.02,1145.50 552.62,1145.50 548.23,1145.50 543.83,1145.50 539.44,1145.50 535.05,1145.50 530.65,1145.50 526.26,1145.50 521.86,1145.50 517.47,1145.50 513.08,1145.50 508.68,1145.50 504.29,1145.50 499.89,1145.50 495.50,1145.50 491.11,1145.50 486.71,1145.50 482.32,1145.50 477.92,1145.50 473.53,1136.12 469.14,1136.12 464.74,1136.12 460.35,1136.12 455.95,1136.12 451.56,1136.12 447.17,1136.12 442.77,1136.12 438.38,1136.12 433.98,1136.12 429.59,1136.12 425.20,1136.12 420.80,1136.12 416.41,1136.12 412.02,1136.12 407.62,1136.12 403.23,1136.12 398.83,1136.12 394.44,1136.12 390.05,1136.12 385.65,1136.12 381.26,1136.12 376.86,1136.12 372.47,1136.12 368.08,1136.12 363.68,1136.12 359.29,1136.12 354.89,1136.12 350.50,1136.12 346.11,1136.12 341.71,1136.12 337.32,1136.12 332.92,1145.50 328.53,1145.50 324.14,1145.50 319.74,1145.50 315.35,1145.50 310.95,1145.50 306.56,1145.50 302.17,1145.50 297.77,1145.50 293.38,1145.50 288.98,1145.50 284.59,1145.50 280.20,1145.50 275.80,1145.50 271.41,1145.50 267.02,1145.50 262.62,1145.50 258.23,1145.50 253.83,1145.50 249.44,1145.50 245.05,1145.50 240.65,1145.50 236.26,1145.50 231.86,1145.50 227.47,1145.50 223.08,1145.50 218.68,1145.50 214.29,1145.50 209.89,1145.50 205.50,1145.50 201.11,1145.50 196.71,1145.50 192.32,1145.50 187.92,1145.50 183.53,1145.50 179.14,1145.50 174.74,1145.50 170.35,1145.50 165.95,1145.50 161.56,1145.50 157.17,1145.50 152.77,1145.50 148.38,1145.50 143.98,1145.50 139.59,1145.50 135.20,1145.50 130.80,1145.50 126.41,1145.50 122.02,1145.50 117.62,1145.50 113.23,1145.50 108.83,1145.50 104.44,1145.50 100.05,1145.50 95.65,1145.50 91.26,1145.50 86.86,1145.50 82.47,1145.50 78.08,1145.50 73.68,1145.50 69.29,1145.50 64.89,1145.50 60.50,1145.50" fill="#1f77b4" fill-opacity="0.1" stroke="#1f77b4" stroke-opacity="0.1" stroke-width="1.39" stroke-linejoin="round"/>
<polygon points="666.86,1098.62 671.26,1098.62 675.65,1098.62 680.05,1089.25 684.44,1089.25 688.83,1089.25 693.23,1089.25 697.62,1089.25 702.02,1089.25 706.41,1079.88 710.80,1079.88 715.20,1079.88 719.59,1070.50 723.98,1079.88 728.38,1070.50 732.77,1070.50 737.17,1070.50 741.56,1070.50 745.95,1061.12 750.35,1061.12 754.74,1061.12 759.14,1051.75 763.53,1051.75 767.92,1042.38 772.32,1042.38 776.71,1042.38 781.11,1033.00 785.50,1033.00 785.50,1145.50 781.11,1145.50 776.71,1145.50 772.32,1145.50 767.92,1145.50 763.53,1145.50 759.14,1145.50 754.74,1145.50 750.35,1145.50 745.95,1145.50 741.56,1145.50 737.17,1145.50 732.77,1145.50 728.38,1145.50 723.98,1145.50 719.59,1145.50 715.20,1145.50 710.80,1145.50 706.41,1145.50 702.02,1145.50 697.62,1145.50 693.23,1145.50 688.83,1145.50 684.44,1145.50 680.05,1145.50 675.65,1145.50 671.26,1145.50 666.86,1145.50" fill="#1f77b4" fill-opacity="0.1" stroke="#1f77b4" stroke-opacity="0.1" stroke-width="1.39" stroke-linejoin="round"/>
<polygon points="666.86,1117.38 671.26,1117.38 675.65,1117.38 680.05,1117.38 684.44,1108.00 688.83,1108.00 693.23,1108.00 697.62,1108.00 702.02,1108.00 706.41,1108.00 710.80,1098.62 715.20,1108.00 719.59,1098.62 723.98,1098.62 728.38,1098.62 732.77,1098.62 737.17,1098.62 741.56,1089.25 745.95,1089.25 750.35,1089.25 754.74,1089.25 759.14,1089.25 763.53,1079.88 767.92,1079.88 772.32,1079.88 776.71,1079.88 781.11,1070.50 785.50,1070.50 785.50,1145.50 781.11,1145.50 776.71,1145.50 772.32,1145.50 767.92,1145.50 763.53,1145.50 759.14,1145.50 754.74,1145.50 750.35,1145.50 745.95,1145.50 741.56,1145.50 737.17,1145.50 732.77,1145.50 728.38,1145.50 723.98,1145.50 719.59,1145.50 715.20,1145.50 710.80,1145.50 706.41,1145.50 702.02,1145.50 697.62,1145.50 693.23,1145.50 688.83,1145.50 684.44,1145.50 680.05,1145.50 675.65,1145.50 671.26,1145.50 666.86,1145.50" fill="#1f77b4" fill-opacity="0.1" stroke="#1f77b4" stroke-opacity="0.1" stroke-width="1.39" stroke-linejoin="round"/>
<polygon points="666.86,1126.75 671.26,1126.75 675.65,1126.75 680.05,1126.75 684.44,1126.75 688.83,1126.75 693.23,1126.75 697.62,1126.75 702.02,1117.38 706.41,1117.38 710.80,1117.38 715.20,1117.38 719.59,1117.38 723.98,1117.38 728.38,1117.38 732.77,1117.38 737.17,1108.00 741.56,1108.00 745.95,1108.00 750.35,1108.00 754.74,1108.00 759.14,1108.00 763.53,1108.00 767.92,1098.62 772.32,1098.62 776.71,1098.62 781.11,1098.62 785.50,1098.62 785.50,1136.12 781.11,1136.12 776.71,1136.12 772.32,1136.12 767.92,1136.12 763.53,1136.12 759.14,1136.12 754.74,1136.12 750.35,1136.12 745.95,1136.12 741.56,1136.12 737.17,1136.12 732.77,1136.12 728.38,1136.12 723.98,1136.12 719.59,1136.12 715.20,1136.12 710.80,1136.12 706.41,1145.50 702.02,1145.50 697.62,1145.50 693.23,1145.50 688.83,1145.50 684.44,1145.50 680.05,1145.50 675.65,1145.50 671.26,1145.50 666.86,1145.50" fill="#1f77b4" fill-opacity="0.1" stroke="#1f77b4" stroke-opacity="0.1" stroke-width="1.39" stroke-linejoin="round"/>
</g>
<line x1="60.5" x2="785.5" y1="1051.50" y2="1051.50" stroke="#b0b0b0" stroke-width="1.0"/>
<line x1="60.5" x2="785.5" y1="958.50" y2="958.50" stroke="#b0b0b0" stroke-width="1.0"/>
<line x1="60.5" x2="785.5" y1="864.50" y2="864.50" stroke="#b0b0b0" stroke-width="1.0"/>
<line x1="60.5" x2="785.5" y1="770.50" y2="770.50" stroke="#b0b0b0" stroke-width="1.0"/>
<line x1="60.5" x2="785.5" y1="676.50" y2="676.50" stroke="#b0b0b0" stroke-width="1.0"/>
<g clip-path="url(#c2)">
<polyline points="60.50,1145.00 64.89,1145.00 69.29,1145.00 73.68,1145.00 78.08,1145.00 82.47,1145.00 86.86,1145.00 91.26,1145.00 95.65,1145.00 100.05,1145.00 104.44,1145.00 108.83,1145.00 113.23,1145.00 117.62,1145.00 122.02,1145.00 126.41,1145.00 130.80,1145.00 135.20,1145.00 139.59,1145.00 143.98,1145.00 148.38,1145.00 152.77,1145.00 157.17,1145.00 161.56,1145.00 165.95,1145.00 170.35,1145.00 174.74,1145.00 179.14,1145.00 183.53,1145.00 187.92,1145.00 192.32,1145.00 196.71,1145.00 201.11,1145.00 205.50,1145.00 209.89,1145.00 214.29,1145.00 218.68,1145.00 223.08,1145.00 227.47,1145.00 231.86,1145.00 236.26,1145.00 240.65,1145.00 245.05,1145.00 249.44,1145.00 253.83,1145.00 258.23,1145.00 262.62,1145.00 267.02,1145.00 271.41,1145.00 275.80,1145.00 280.20,1145.00 284.59,1145.00 288.98,1145.00 293.38,1145.00 297.77,1145.00 302.17,1136.12 306.56,1145.00 310.95,1136.12 315.35,1136.12 319.74,1136.12 324.14,1136.12 328.53,1136.12 332.92,1136.12 337.32,1136.12 341.71,1136.12 346.11,1136.12 350.50,1136.12 354.89,1136.12 359.29,1136.12 363.68,1136.12 368.08,1136.12 372.47,1136.12 376.86,1136.12 381.26,1136.12 385.65,1136.12 390.05,1136.12 394.44,1136.12 398.83,1136.12 403.23,1136.12 407.62,1136.12 412.02,1136.12 416.41,1136.12 420.80,1136.12 425.20,1136.12 429.59,1136.12 433.98,1136.12 438.38,1136.12 442.77,1136.12 447.17,1136.12 451.56,1136.12 455.95,1136.12 460.35,1136.12 464.74,1136.12 469.14,1136.12 473.53,1136.12 477.92,1136.12 482.32,1136.12 486.71,1136.12 491.11,1136.12 495.50,1136.12 499.89,1136.12 504.29,1145.00 508.68,1136.12 513.08,1145.00 517.47,1145.00 521.86,1145.00 526.26,1145.00 530.65,1145.00 535.05,1145.00 539.44,1145.00 543.83,1145.00 548.23,1145.00 552.62,1145.00 557.02,1145.00 561.41,1145.00 565.80,1145.00 570.20,1145.00 574.59,1145.00 578.98,1145.00 583.38,1145.00 587.77,1145.00 592.17,1145.00 596.56,1145.00 600.95,1145.00 605.35,1145.00 609.74,1145.00 614.14,1136.12 618.53,1136.12 622.92,1136.12 627.32,1136.12 631.71,1136.12 636.11,1136.12 640.50,1136.12 644.89,1136.12 649.29,1136.12 653.68,1136.12 658.08,1136.12 662.47,1136.12" fill="none" stroke="#1f77b4" stroke-width="2.08" stroke-linejoin="round"/>
<polyline points="666.86,1136.12 671.26,1136.12 675.65,1136.12 680.05,1136.12 684.44,1136.12 688.83,1136.12 693.23,1136.12 697.62,1136.12 702.02,1136.12 706.41,1136.12 710.80,1136.12 715.20,1136.12 719.59,1126.75 723.98,1126.75 728.38,1126.75 732.77,1126.75 737.17,1126.75 741.56,1126.75 745.95,1126.75 750.35,1126.75 754.74,1126.75 759.14,1126.75 763.53,1117.38 767.92,1126.75 772.32,1117.38 776.71,1117.38 781.11,1117.38 785.50,1117.38" fill="none" stroke="#1f77b4" stroke-width="2.08" stroke-linejoin="round"/>
</g>
<g clip-path="url(#c2)" fill="#ff7f0e" stroke="#ff7f0e" stroke-width="1.39">
<circle cx="60.50" cy="1145.50" r="4.17"/>
<circle cx="64.89" cy="1145.50" r="4.17"/>
<circle cx="69.29" cy="1145.50" r="4.17"/>
<circle cx="73.68" cy="1145.50" r="4.17"/>
<circle cx="78.08" cy="1145.50" r="4.17"/>
<circle cx="82.47" cy="1145.50" r="4.17"/>
<circle cx="86.86" cy="1145.50" r="4.17"/>
<circle cx="91.26" cy="1145.50" r="4.17"/>
<circle cx="95.65" cy="1145.50" r="4.17"/>
<circle cx="100.05" cy="1145.50" r="4.17"/>
<circle cx="104.44" cy="1145.50" r="4.17"/>
<circle cx="108.83" cy="1145.50" r="4.17"/>
<circle cx="113.23" cy="1145.50" r="4.17"/>
<circle cx="117.62" cy="1145.50" r="4.17"/>
<circle cx="122.02" cy="1145.50" r="4.17"/>
<circle cx="126.41" cy="1145.50" r="4.17"/>
<circle cx="130.80" cy="1145.50" r="4.17"/>
<circle cx="135.20" cy="1145.50" r="4.17"/>
<circle cx="139.59" cy="1145.50" r="4.17"/>
<circle cx="143.98" cy="1145.50" r="4.17"/>
<circle cx="148.38" cy="1145.50" r="4.17"/>
<circle cx="152.77" cy="1145.50" r="4.17"/>
<circle cx="157.17" cy="1145.50" r="4.17"/>
<circle cx="161.56" cy="1136.12" r="4.17"/>
<circle cx="165.95" cy="1145.50" r="4.17"/>
<circle cx="170.35" cy="1145.50" r="4.17"/>
<circle cx="174.74" cy="1136.12" r="4.17"/>
<circle cx="179.14" cy="1136.12" r="4.17"/>
<circle cx="183.53" cy="1145.50" r="4.17"/>
<circle cx="187.92" cy="1145.50" r="4.17"/>
<circle cx="192.32" cy="1145.50" r="4.17"/>
<circle cx="196.71" cy="1145.50" r="4.17"/>
<circle cx="201.11" cy="1145.50" r="4.17"/>
<circle cx="205.50" cy="1145.50" r="4.17"/>
<circle cx="209.89" cy="1136.12" r="4.17"/>
<circle cx="214.29" cy="1145.50" r="4.17"/>
<circle cx="218.68" cy="1136.12" r="4.17"/>
<circle cx="223.08" cy="1136.12" r="4.17"/>
<circle cx="227.47" cy="1136.12" r="4.17"/>
<circle cx="231.86" cy="1145.50" r="4.17"/>
<circle cx="236.26" cy="1136.12" r="4.17"/>
<circle cx="240.65" cy="1145.50" r="4.17"/>
<circle cx="245.05" cy="1136.12" r="4.17"/>
<circle cx="249.44" cy="1145.50" r="4.17"/>
<circle cx="253.83" cy="1145.50" r="4.17"/>
<circle cx="258.23" cy="1145.50" r="4.17"/>
<circle cx="262.62" cy="1145.50" r="4.17"/>
<circle cx="267.02" cy="1145.50" r="4.17"/>
<circle cx="271.41" cy="1108.00" r="4.17"/>
<circle cx="275.80" cy="1136.12" r="4.17"/>
<circle cx="280.20" cy="1136.12" r="4.17"/>
<circle cx="284.59" cy="1145.50" r="4.17"/>
<circle cx="288.98" cy="1136.12" r="4.17"/>
<circle cx="293.38" cy="1136.12" r="4.17"/>
<circle cx="297.77" cy="1126.75" r="4.17"/>
<circle cx="302.17" cy="1145.50" r="4.17"/>
<circle cx="306.56" cy="1145.50" r="4.17"/>
<circle cx="310.95" cy="1145.50" r="4.17"/>
<circle cx="315.35" cy="1108.00" r="4.17"/>
<circle cx="319.74" cy="1136.12" r="4.17"/>
<circle cx="324.14" cy="1136.12" r="4.17"/>
<circle cx="328.53" cy="1145.50" r="4.17"/>
<circle cx="332.92" cy="1145.50" r="4.17"/>
<circle cx="337.32" cy="1089.25" r="4.17"/>
<circle cx="341.71" cy="1145.50" r="4.17"/>
<circle cx="346.11" cy="1126.75" r="4.17"/>
<circle cx="350.50" cy="1126.75" r="4.17"/>
<circle cx="354.89" cy="1145.50" r="4.17"/>
<circle cx="359.29" cy="1136.12" r="4.17"/>
<circle cx="363.68" cy="1126.75" r="4.17"/>
<circle cx="368.08" cy="1126.75" r="4.17"/>
<circle cx="372.47" cy="1145.50" r="4.17"/>
<circle cx="376.86" cy="1126.75" r="4.17"/>
<circle cx="381.26" cy="1145.50" r="4.17"/>
<circle cx="385.65" cy="1136.12" r="4.17"/>
<circle cx="390.05" cy="1136.12" r="4.17"/>
<circle cx="394.44" cy="1136.12" r="4.17"/>
<circle cx="398.83" cy="1108.00" r="4.17"/>
<circle cx="403.23" cy="1126.75" r="4.17"/>
<circle cx="407.62" cy="1136.12" r="4.17"/>
<circle cx="412.02" cy="1145.50" r="4.17"/>
<circle cx="416.41" cy="1136.12" r="4.17"/>
<circle cx="420.80" cy="1136.12" r="4.17"/>
<circle cx="425.20" cy="1145.50" r="4.17"/>
<circle cx="429.59" cy="1126.75" r="4.17"/>
<circle cx="433.98" cy="1136.12" r="4.17"/>
<circle cx="438.38" cy="1126.75" r="4.17"/>
<circle cx="442.77" cy="1136.12" r="4.17"/>
<circle cx="447.17" cy="1136.12" r="4.17"/>
<circle cx="451.56" cy="1145.50" r="4.17"/>
<circle cx="455.95" cy="1108.00" r="4.17"/>
<circle cx="460.35" cy="1136.12" r="4.17"/>
<circle cx="464.74" cy="1145.50" r="4.17"/>
<circle cx="469.14" cy="1098.62" r="4.17"/>
<circle cx="473.53" cy="1136.12" r="4.17"/>
<circle cx="477.92" cy="1145.50" r="4.17"/>
<circle cx="482.32" cy="1145.50" r="4.17"/>
<circle cx="486.71" cy="1145.50" r="4.17"/>
<circle cx="491.11" cy="1136.12" r="4.17"/>
<circle cx="495.50" cy="1136.12" r="4.17"/>
<circle cx="499.89" cy="1145.50" r="4.17"/>
<circle cx="504.29" cy="1145.50" r="4.17"/>
<circle cx="508.68" cy="1145.50" r="4.17"/>
<circle cx="513.08" cy="1145.50" r="4.17"/>
<circle cx="517.47" cy="1145.50" r="4.17"/>
<circle cx="521.86" cy="1145.50" r="4.17"/>
<circle cx="526.26" cy="1136.12" r="4.17"/>
<circle cx="530.65" cy="1136.12" r="4.17"/>
<circle cx="535.05" cy="1145.50" r="4.17"/>
<circle cx="539.44" cy="1136.12" r="4.17"/>
<circle cx="543.83" cy="1145.50" r="4.17"/>
<circle cx="548.23" cy="1136.12" r="4.17"/>
<circle cx="552.62" cy="1145.50" r="4.17"/>
<circle cx="557.02" cy="1145.50" r="4.17"/>
<circle cx="561.41" cy="1145.50" r="4.17"/>
<circle cx="565.80" cy="1145.50" r="4.17"/>
<circle cx="570.20" cy="1136.12" r="4.17"/>
<circle cx="574.59" cy="1145.50" r="4.17"/>
<circle cx="578.98" cy="1145.50" r="4.17"/>
<circle cx="583.38" cy="1136.12" r="4.17"/>
<circle cx="587.77" cy="1145.50" r="4.17"/>
<circle cx="592.17" cy="1145.50" r="4.17"/>
<circle cx="596.56" cy="1145.50" r="4.17"/>
<circle cx="600.95" cy="1145.50" r="4.17"/>
<circle cx="605.35" cy="1145.50" r="4.17"/>
<circle cx="609.74" cy="1108.00" r="4.17"/>
<circle cx="614.14" cy="1136.12" r="4.17"/>
<circle cx="618.53" cy="1145.50" r="4.17"/>
<circle cx="622.92" cy="1145.50" r="4.17"/>
<circle cx="627.32" cy="1126.75" r="4.17"/>
<circle cx="631.71" cy="1145.50" r="4.17"/>
<circle cx="636.11" cy="1145.50" r="4.17"/>
<circle cx="640.50" cy="1136.12" r="4.17"/>
<circle cx="644.89" cy="1145.50" r="4.17"/>
<circle cx="649.29" cy="1136.12" r="4.17"/>
<circle cx="653.68" cy="1136.12" r="4.17"/>
<circle cx="658.08" cy="1145.50" r="4.17"/>
<circle cx="662.47" cy="1126.75" r="4.17"/>
<circle cx="666.86" cy="1136.12" r="4.17"/>
<circle cx="671.26" cy="1136.12" r="4.17"/>
<circle cx="675.65" cy="1126.75" r="4.17"/>
<circle cx="680.05" cy="1136.12" r="4.17"/>
<circle cx="684.44" cy="1126.75" r="4.17"/>
<circle cx="688.83" cy="1145.50" r="4.17"/>
<circle cx="693.23" cy="1145.50" r="4.17"/>
<circle cx="697.62" cy="1145.50" r="4.17"/>
<circle cx="702.02" cy="1136.12" r="4.17"/>
<circle cx="706.41" cy="1126.75" r="4.17"/>
<circle cx="710.80" cy="1136.12" r="4.17"/>
<circle cx="715.20" cy="1145.50" r="4.17"/>
<circle cx="719.59" cy="1145.50" r="4.17"/>
<circle cx="723.98" cy="1126.75" r="4.17"/>
<circle cx="728.38" cy="1145.50" r="4.17"/>
<circle cx="732.77" cy="1126.75" r="4.17"/>
<circle cx="737.17" cy="1136.12" r="4.17"/>
<circle cx="741.56" cy="1136.12" r="4.17"/>
<circle cx="745.95" cy="1136.12" r="4.17"/>
<circle cx="750.35" cy="1126.75" r="4.17"/>
<circle cx="754.74" cy="1145.50" r="4.17"/>
<circle cx="759.14" cy="1136.12" r="4.17"/>
<circle cx="763.53" cy="1098.62" r="4.17"/>
<circle cx="767.92" cy="1126.75" r="4.17"/>
<circle cx="772.32" cy="1145.50" r="4.17"/>
<circle cx="776.71" cy="1136.12" r="4.17"/>
<circle cx="781.11" cy="1145.50" r="4.17"/>
<circle cx="785.50" cy="1108.00" r="4.17"/>
</g>
<line x1="662" x2="662" y1="1155.84" y2="592.5" stroke="#1f77b4" stroke-opacity="0.5" stroke-width="2.08" stroke-dasharray="7.71 3.33" clip-path="url(#c2)"/>
<rect x="60.5" y="15.5" width="725.0" height="553.0" fill="none" stroke="#000" stroke-width="1.11" stroke-linejoin="miter"/>
<rect x="60.5" y="592.5" width="725.0" height="553.0" fill="none" stroke="#000" stroke-width="1.11" stroke-linejoin="miter"/>
<line x1="60.50" x2="60.50" y1="568.5" y2="573.36" stroke="#000" stroke-width="1.11"/>
<line x1="183.50" x2="183.50" y1="568.5" y2="573.36" stroke="#000" stroke-width="1.11"/>
<line x1="315.50" x2="315.50" y1="568.5" y2="573.36" stroke="#000" stroke-width="1.11"/>
<line x1="451.50" x2="451.50" y1="568.5" y2="573.36" stroke="#000" stroke-width="1.11"/>
<line x1="583.50" x2="583.50" y1="568.5" y2="573.36" stroke="#000" stroke-width="1.11"/>
<line x1="719.50" x2="719.50" y1="568.5" y2="573.36" stroke="#000" stroke-width="1.11"/>
<line x1="785.50" x2="785.50" y1="568.5" y2="573.36" stroke="#000" stroke-width="1.11"/>
<line x1="82.50" x2="82.50" y1="568.5" y2="571.50" stroke="#000" stroke-width="0.9"/>
<line x1="113.50" x2="113.50" y1="568.5" y2="571.50" stroke="#000" stroke-width="0.9"/>
<line x1="143.50" x2="143.50" y1="568.5" y2="571.50" stroke="#000" stroke-width="0.9"/>
<line x1="174.50" x2="174.50" y1="568.5" y2="571.50" stroke="#000" stroke-width="0.9"/>
<line x1="205.50" x2="205.50" y1="568.5" y2="571.50" stroke="#000" stroke-width="0.9"/>
<line x1="236.50" x2="236.50" y1="568.5" y2="571.50" stroke="#000" stroke-width="0.9"/>
<line x1="267.50" x2="267.50" y1="568.5" y2="571.50" stroke="#000" stroke-width="0.9"/>
<line x1="297.50" x2="297.50" y1="568.5" y2="571.50" stroke="#000" stroke-width="0.9"/>
<line x1="328.50" x2="328.50" y1="568.5" y2="571.50" stroke="#000" stroke-width="0.9"/>
<line x1="359.50" x2="359.50" y1="568.5" y2="571.50" stroke="#000" stroke-width="0.9"/>
<line x1="390.50" x2="390.50" y1="568.5" y2="571.50" stroke="#000" stroke-width="0.9"/>
<line x1="420.50" x2="420.50" y1="568.5" y2="571.50" stroke="#000" stroke-width="0.9"/>
<line x1="451.50" x2="451.50" y1="568.5" y2="571.50" stroke="#000" stroke-width="0.9"/>
<line x1="482.50" x2="482.50" y1="568.5" y2="571.50" stroke="#000" stroke-width="0.9"/>
<line x1="513.50" x2="513.50" y1="568.5" y2="571.50" stroke="#000" stroke-width="0.9"/>
<line x1="543.50" x2="543.50" y1="568.5" y2="571.50" stroke="#000" stroke-width="0.9"/>
<line x1="574.50" x2="574.50" y1="568.5" y2="571.50" stroke="#000" stroke-width="0.9"/>
<line x1="605.50" x2="605.50" y1="568.5" y2="571.50" stroke="#000" stroke-width="0.9"/>
<line x1="636.50" x2="636.50" y1="568.5" y2="571.50" stroke="#000" stroke-width="0.9"/>
<line x1="666.50" x2="666.50" y1="568.5" y2="571.50" stroke="#000" stroke-width="0.9"/>
<line x1="697.50" x2="697.50" y1="568.5" y2="571.50" stroke="#000" stroke-width="0.9"/>
<line x1="728.50" x2="728.50" y1="568.5" y2="571.50" stroke="#000" stroke-width="0.9"/>
<line x1="759.50" x2="759.50" y1="568.5" y2="571.50" stroke="#000" stroke-width="0.9"/>
<line x1="60.50" x2="60.50" y1="1145.5" y2="1150.36" stroke="#000" stroke-width="1.11"/>
<line x1="183.50" x2="183.50" y1="1145.5" y2="1150.36" stroke="#000" stroke-width="1.11"/>
<line x1="315.50" x2="315.50" y1="1145.5" y2="1150.36" stroke="#000" stroke-width="1.11"/>
<line x1="451.50" x2="451.50" y1="1145.5" y2="1150.36" stroke="#000" stroke-width="1.11"/>
<line x1="583.50" x2="583.50" y1="1145.5" y2="1150.36" stroke="#000" stroke-width="1.11"/>
<line x1="719.50" x2="719.50" y1="1145.5" y2="1150.36" stroke="#000" stroke-width="1.11"/>
<line x1="785.50" x2="785.50" y1="1145.5" y2="1150.36" stroke="#000" stroke-width="1.11"/>
<line x1="82.50" x2="82.50" y1="1145.5" y2="1148.50" stroke="#000" stroke-width="0.9"/>
<line x1="113.50" x2="113.50" y1="1145.5" y2="1148.50" stroke="#000" stroke-width="0.9"/>
<line x1="143.50" x2="143.50" y1="1145.5" y2="1148.50" stroke="#000" stroke-width="0.9"/>
<line x1="174.50" x2="174.50" y1="1145.5" y2="1148.50" stroke="#000" stroke-width="0.9"/>
<line x1="205.50" x2="205.50" y1="1145.5" y2="1148.50" stroke="#000" stroke-width="0.9"/>
<line x1="236.50" x2="236.50" y1="1145.5" y2="1148.50" stroke="#000" stroke-width="0.9"/>
<line x1="267.50" x2="267.50" y1="1145.5" y2="1148.50" stroke="#000" stroke-width="0.9"/>
<line x1="297.50" x2="297.50" y1="1145.5" y2="1148.50" stroke="#000" stroke-width="0.9"/>
<line x1="328.50" x2="328.50" y1="1145.5" y2="1148.50" stroke="#000" stroke-width="0.9"/>
<line x1="359.50" x2="359.50" y1="1145.5" y2="1148.50" stroke="#000" stroke-width="0.9"/>
<line x1="390.50" x2="390.50" y1="1145.5" y2="1148.50" stroke="#000" stroke-width="0.9"/>
<line x1="420.50" x2="420.50" y1="1145.5" y2="1148.50" stroke="#000" stroke-width="0.9"/>
<line x1="451.50" x2="451.50" y1="1145.5" y2="1148.50" stroke="#000" stroke-width="0.9"/>
<line x1="482.50" x2="482.50" y1="1145.5" y2="1148.50" stroke="#000" stroke-width="0.9"/>
<line x1="513.50" x2="513.50" y1="1145.5" y2="1148.50" stroke="#000" stroke-width="0.9"/>
<line x1="543.50" x2="543.50" y1="1145.5" y2="1148.50" stroke="#000" stroke-width="0.9"/>
<line x1="574.50" x2="574.50" y1="1145.5" y2="1148.50" stroke="#000" stroke-width="0.9"/>
<line x1="605.50" x2="605.50" y1="1145.5" y2="1148.50" stroke="#000" stroke-width="0.9"/>
<line x1="636.50" x2="636.50" y1="1145.5" y2="1148.50" stroke="#000" stroke-width="0.9"/>
<line x1="666.50" x2="666.50" y1="1145.5" y2="1148.50" stroke="#000" stroke-width="0.9"/>
<line x1="697.50" x2="697.50" y1="1145.5" y2="1148.50" stroke="#000" stroke-width="0.9"/>
<line x1="728.50" x2="728.50" y1="1145.5" y2="1148.50" stroke="#000" stroke-width="0.9"/>
<line x1="759.50" x2="759.50" y1="1145.5" y2="1148.50" stroke="#000" stroke-width="0.9"/>
<line x1="55.64" x2="60.5" y1="568.50" y2="568.50" stroke="#000" stroke-width="1.11"/>
<line x1="55.64" x2="60.5" y1="448.50" y2="448.50" stroke="#000" stroke-width="1.11"/>
<line x1="55.64" x2="60.5" y1="328.50" y2="328.50" stroke="#000" stroke-width="1.11"/>
<line x1="55.64" x2="60.5" y1="208.50" y2="208.50" stroke="#000" stroke-width="1.11"/>
<line x1="55.64" x2="60.5" y1="88.50" y2="88.50" stroke="#000" stroke-width="1.11"/>
<line x1="55.64" x2="60.5" y1="1145.50" y2="1145.50" stroke="#000" stroke-width="1.11"/>
<line x1="55.64" x2="60.5" y1="1051.50" y2="1051.50" stroke="#000" stroke-width="1.11"/>
<line x1="55.64" x2="60.5" y1="958.50" y2="958.50" stroke="#000" stroke-width="1.11"/>
<line x1="55.64" x2="60.5" y1="864.50" y2="864.50" stroke="#000" stroke-width="1.11"/>
<line x1="55.64" x2="60.5" y1="770.50" y2="770.50" stroke="#000" stroke-width="1.11"/>
<line x1="55.64" x2="60.5" y1="676.50" y2="676.50" stroke="#000" stroke-width="1.11"/>
<g font-size="13.89" fill="#000" text-anchor="end">
<text x="50.50" y="573.70">0</text>
<text x="50.50" y="453.70">500</text>
<text x="50.50" y="333.70">1000</text>
<text x="50.50" y="213.70">1500</text>
<text x="50.50" y="93.70">2000</text>
<text x="50.50" y="1150.70">0</text>
<text x="50.50" y="1056.70">10</text>
<text x="50.50" y="963.70">20</text>
<text x="50.50" y="869.70">30</text>
<text x="50.50" y="775.70">40</text>
<text x="50.50" y="681.70">50</text>
</g>
<g font-size="13.89" fill="#000" text-anchor="middle">
<text x="183.53" y="1166.3">Apr</text>
<text x="315.35" y="1166.3">May</text>
<text x="451.56" y="1166.3">Jun</text>
<text x="583.38" y="1166.3">Jul</text>
<text x="719.59" y="1166.3">Aug</text>
<text x="183.53" y="1181.9">2020</text>
</g>
<text x="397.2" y="36.2" font-size="16.67" text-anchor="middle" fill="#000">North Dakota 28 days</text>
<rect x="67.5" y="22.5" width="158" height="24.5" rx="2.8" ry="2.8" fill="#fff" fill-opacity="0.8" stroke="#ccc" stroke-opacity="0.8" stroke-width="1.39"/>
<line x1="71.00" x2="100.80" y1="34.00" y2="34.00" stroke="#1f77b4" stroke-width="2.08"/>
<text x="110.90" y="37.70" font-size="13.89" fill="#000">daily confirmed</text>
<rect x="67.5" y="599.7" width="135" height="24.4" rx="2.8" ry="2.8" fill="#fff" fill-opacity="0.8" stroke="#ccc" stroke-opacity="0.8" stroke-width="1.39"/>
<line x1="71.00" x2="100.80" y1="610.00" y2="610.00" stroke="#1f77b4" stroke-width="2.08"/>
<text x="110.90" y="614.90" font-size="13.89" fill="#000">daily deaths</text>
</svg>
</body></html>
